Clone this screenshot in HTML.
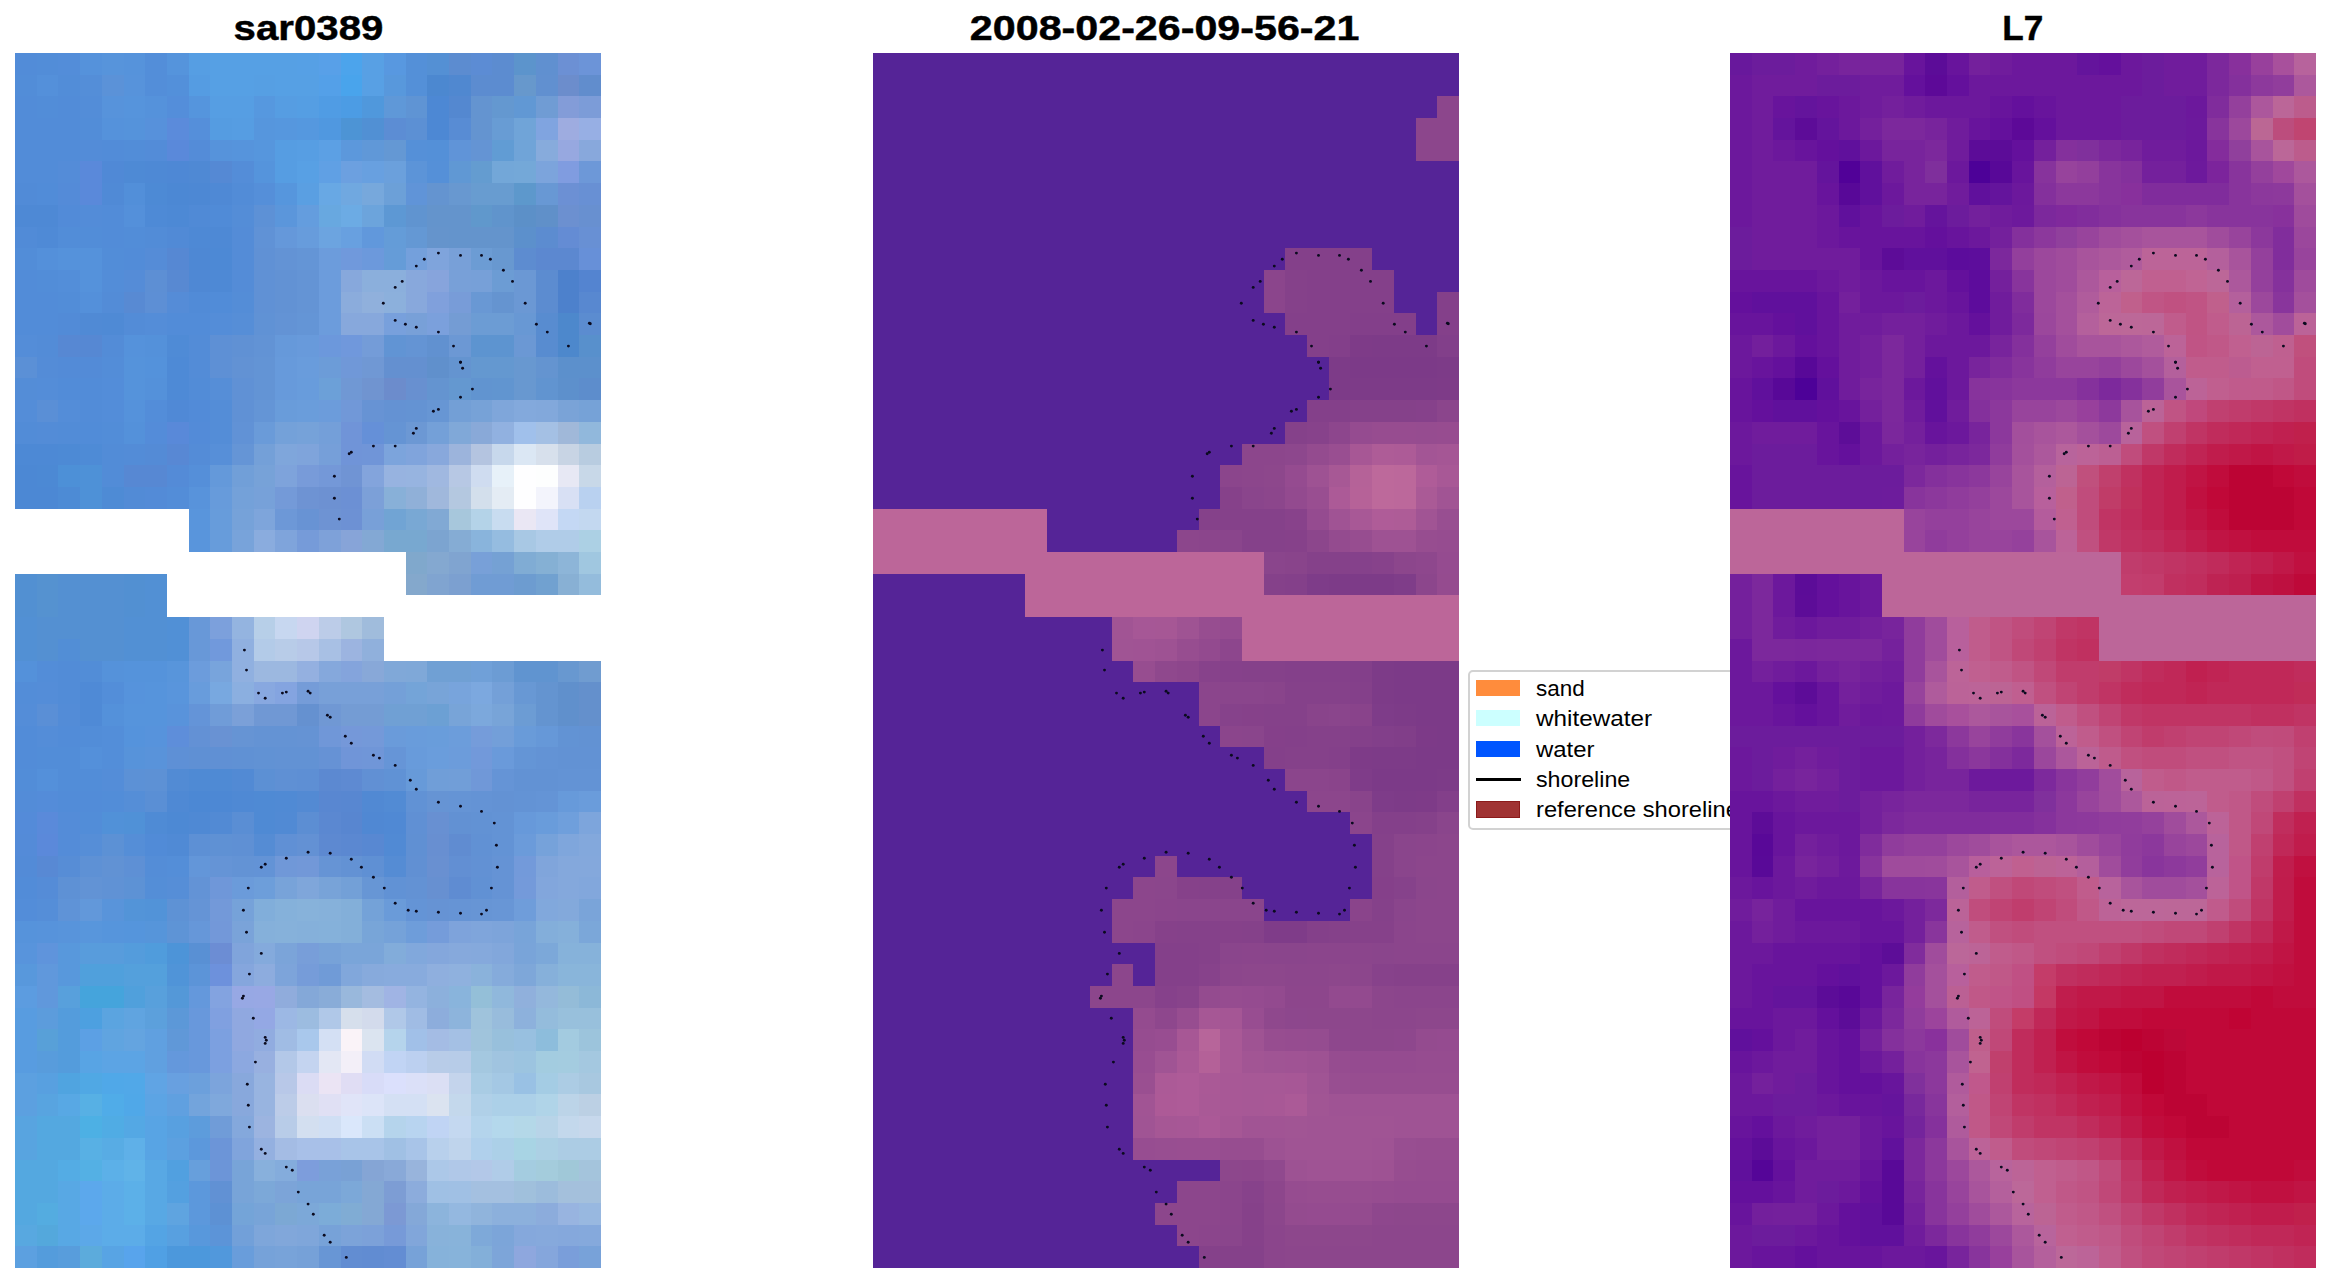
<!DOCTYPE html>
<html><head><meta charset="utf-8"><title>figure</title>
<style>
html,body{margin:0;padding:0;background:#fff}
body{width:2331px;height:1283px;position:relative;overflow:hidden;font-family:"Liberation Sans",sans-serif;color:#000}
.p{position:absolute;display:block}
.t{position:absolute;top:8.1px;width:800px;margin-left:-400px;text-align:center;font-weight:bold;font-size:35.7px;line-height:40px;white-space:nowrap}
.t span{display:inline-block;transform-origin:50% 50%;-webkit-text-stroke:0.45px #000}
.lg{position:absolute;left:1468px;top:670px;width:290px;height:156px;border:2px solid #d2d2d2;border-radius:5px;background:#fff;box-sizing:content-box}
.sw{position:absolute;left:1476px;width:44px;height:16px}
.lt{position:absolute;left:1536px;font-size:21.7px;line-height:30px;height:30px;white-space:nowrap}
.lt span{display:inline-block;transform-origin:0 50%}
</style></head><body>
<div class="lg"></div>
<div class="sw" style="top:680px;background:#ff8c3c"></div>
<div class="sw" style="top:710px;background:#ccffff"></div>
<div class="sw" style="top:741px;background:#0055ff"></div>
<div class="sw" style="top:778px;height:3px;background:#000;width:45px"></div>
<div class="sw" style="left:1476px;width:44px;top:800.8px;height:17.2px;background:#a03333;border:1.4px solid #8b1a1a;box-sizing:border-box"></div>
<div class="lt" style="top:674px"><span style="transform:scaleX(1.035)">sand</span></div>
<div class="lt" style="top:704px"><span style="transform:scaleX(1.119)">whitewater</span></div>
<div class="lt" style="top:735px"><span style="transform:scaleX(1.103)">water</span></div>
<div class="lt" style="top:765px"><span style="transform:scaleX(1.071)">shoreline</span></div>
<div class="lt" style="top:795px"><span style="transform:scaleX(1.093)">reference shoreline</span></div>
<div class="t" style="left:308.3px"><span style="transform:scaleX(1.126)">sar0389</span></div>
<div class="t" style="left:1164.5px"><span style="transform:scaleX(1.155)">2008-02-26-09-56-21</span></div>
<div class="t" style="left:2023.1px"><span style="transform:scaleX(0.984)">L7</span></div>
<svg class="p" style="left:15px;top:53px" width="586" height="1215" viewBox="0 0 586 1215" shape-rendering="crispEdges">
<path fill="#528cd8" d="M0 0h22v22h-22zM0 43h22v22h-22zM43 43h22v22h-22zM0 65h65v22h-65zM0 87h65v21h-65zM87 87h22v21h-22zM0 108h43v22h-43zM87 152h22v22h-22zM87 174h22v21h-22zM109 195h21v22h-21zM0 217h22v22h-22zM0 239h43v21h-43zM0 260h43v22h-43zM152 260h43v22h-43zM43 325h44v22h-44zM65 347h22v22h-22zM0 673h22v21h-22zM43 673h22v21h-22zM0 694h22v22h-22zM43 738h44v21h-44zM0 824h22v22h-22z"/>
<path fill="#528dd8" d="M22 0h21v22h-21zM0 22h22v21h-22zM43 22h22v21h-22zM22 43h21v22h-21zM65 65h22v22h-22zM109 87h21v21h-21zM43 174h44v21h-44zM109 174h21v21h-21zM0 195h22v22h-22zM87 195h22v22h-22zM22 217h21v22h-21zM43 239h22v21h-22zM87 369h22v22h-22zM65 673h22v21h-22zM22 694h43v22h-43zM0 716h22v22h-22zM43 716h44v22h-44zM87 738h22v21h-22zM65 759h22v22h-22z"/>
<path fill="#538dd9" d="M43 0h22v22h-22zM87 325h22v22h-22zM87 347h22v22h-22zM130 347h22v22h-22zM0 846h22v22h-22z"/>
<path fill="#5592db" d="M65 0h22v22h-22zM130 43h22v22h-22zM87 65h22v22h-22zM43 195h44v22h-44zM65 217h22v22h-22zM109 282h21v22h-21zM109 347h21v22h-21z"/>
<path fill="#5794db" d="M87 0h22v22h-22z"/>
<path fill="#5693db" d="M109 0h21v22h-21zM195 87h22v21h-22zM0 868h22v22h-22z"/>
<path fill="#538ed9" d="M130 0h22v22h-22zM130 22h22v21h-22zM43 217h22v22h-22zM87 629h22v22h-22zM87 673h22v21h-22zM87 694h22v22h-22z"/>
<path fill="#5594dc" d="M152 0h22v22h-22zM239 108h21v22h-21z"/>
<path fill="#569ee3" d="M174 0h21v22h-21zM195 43h44v22h-44z"/>
<path fill="#56a0e4" d="M195 0h87v22h-87zM195 22h44v21h-44zM260 22h44v21h-44z"/>
<path fill="#56a0e5" d="M282 0h22v22h-22z"/>
<path fill="#58a0e8" d="M304 0h22v22h-22z"/>
<path fill="#4ca4ec" d="M326 0h21v22h-21z"/>
<path fill="#58a0e4" d="M347 0h22v22h-22zM347 22h22v21h-22zM282 108h22v22h-22z"/>
<path fill="#5898e0" d="M369 0h22v22h-22z"/>
<path fill="#5490d8" d="M391 0h21v22h-21zM391 22h21v21h-21zM412 87h22v21h-22z"/>
<path fill="#5490d4" d="M412 0h22v22h-22z"/>
<path fill="#5c8cd0" d="M434 0h22v22h-22zM477 0h22v22h-22zM456 22h43v21h-43zM521 174h22v21h-22zM521 217h22v22h-22zM521 239h22v21h-22z"/>
<path fill="#5c8cd4" d="M456 0h21v22h-21z"/>
<path fill="#5c94cc" d="M499 0h22v22h-22z"/>
<path fill="#6090d0" d="M521 0h22v22h-22z"/>
<path fill="#6c90d4" d="M543 0h21v22h-21zM543 130h21v22h-21zM326 434h21v22h-21z"/>
<path fill="#6c94d8" d="M564 0h22v22h-22z"/>
<path fill="#5490da" d="M22 22h21v21h-21zM109 152h21v22h-21zM22 195h21v22h-21zM65 239h22v21h-22zM65 694h22v22h-22zM22 716h21v22h-21z"/>
<path fill="#548ed8" d="M65 22h22v21h-22zM152 803h22v21h-22z"/>
<path fill="#5b92d8" d="M87 22h22v21h-22z"/>
<path fill="#5793db" d="M109 22h21v21h-21zM87 43h22v22h-22zM22 868h21v22h-21z"/>
<path fill="#5390da" d="M152 22h22v21h-22z"/>
<path fill="#559ce2" d="M174 22h21v21h-21z"/>
<path fill="#569fe3" d="M239 22h21v21h-21z"/>
<path fill="#54a0e8" d="M304 22h22v21h-22z"/>
<path fill="#49a4ec" d="M326 22h21v21h-21z"/>
<path fill="#5898dc" d="M369 22h22v21h-22zM43 890h22v21h-22zM0 911h22v22h-22zM43 911h22v22h-22zM174 1172h21v21h-21z"/>
<path fill="#4c88d0" d="M412 22h22v21h-22z"/>
<path fill="#5088d0" d="M434 22h22v21h-22z"/>
<path fill="#6798cc" d="M499 22h22v21h-22z"/>
<path fill="#6190d0" d="M521 22h22v21h-22z"/>
<path fill="#6c8dcc" d="M543 22h21v21h-21z"/>
<path fill="#618dcd" d="M564 22h22v21h-22z"/>
<path fill="#538dd8" d="M65 43h22v22h-22zM87 217h22v22h-22zM87 304h22v21h-22zM152 434h22v22h-22zM22 608h21v21h-21zM0 629h22v22h-22z"/>
<path fill="#5694dc" d="M109 43h21v22h-21zM217 87h22v21h-22zM130 629h22v22h-22zM109 651h43v22h-43z"/>
<path fill="#548eda" d="M152 43h22v22h-22z"/>
<path fill="#5595dd" d="M174 43h21v22h-21z"/>
<path fill="#5698df" d="M239 43h21v22h-21z"/>
<path fill="#569de2" d="M260 43h22v22h-22zM217 65h22v22h-22zM260 87h22v21h-22zM260 108h22v22h-22z"/>
<path fill="#559ee3" d="M282 43h22v22h-22z"/>
<path fill="#509ce4" d="M304 43h22v22h-22z"/>
<path fill="#4c9ce4" d="M326 43h21v22h-21z"/>
<path fill="#5098dc" d="M347 43h22v22h-22z"/>
<path fill="#5f98d8" d="M369 43h22v22h-22z"/>
<path fill="#5f94d4" d="M391 43h21v22h-21z"/>
<path fill="#4d88d4" d="M412 43h22v22h-22zM412 65h22v22h-22zM174 130h21v22h-21zM195 738h22v21h-22z"/>
<path fill="#5488d0" d="M434 43h22v22h-22z"/>
<path fill="#6494d0" d="M456 43h21v22h-21zM456 65h21v22h-21zM412 130h22v22h-22zM434 304h22v21h-22zM521 304h22v21h-22zM412 325h22v22h-22zM521 629h22v22h-22zM521 651h22v22h-22z"/>
<path fill="#6498d0" d="M477 43h22v22h-22zM456 304h43v21h-43zM434 325h22v22h-22z"/>
<path fill="#6198d4" d="M499 43h22v22h-22z"/>
<path fill="#709cd4" d="M521 43h22v22h-22zM456 521h43v21h-43z"/>
<path fill="#839cd8" d="M543 43h21v22h-21z"/>
<path fill="#7c9cd8" d="M564 43h22v22h-22z"/>
<path fill="#5593db" d="M109 65h21v22h-21zM109 304h21v21h-21zM109 325h21v22h-21zM109 608h43v21h-43z"/>
<path fill="#5791db" d="M130 65h22v22h-22z"/>
<path fill="#5b8bdb" d="M152 65h22v22h-22z"/>
<path fill="#558fda" d="M174 65h21v22h-21z"/>
<path fill="#559ce1" d="M195 65h22v22h-22z"/>
<path fill="#5696dd" d="M239 65h21v22h-21zM239 87h21v21h-21zM260 130h22v22h-22z"/>
<path fill="#5697de" d="M260 65h22v22h-22z"/>
<path fill="#5598df" d="M282 65h22v22h-22z"/>
<path fill="#5098e0" d="M304 65h22v22h-22z"/>
<path fill="#4d94d5" d="M326 65h21v22h-21z"/>
<path fill="#5190d4" d="M347 65h22v22h-22z"/>
<path fill="#5c8dd4" d="M369 65h22v22h-22z"/>
<path fill="#5c90d4" d="M391 65h21v22h-21zM239 716h21v22h-21z"/>
<path fill="#588cd4" d="M434 65h22v22h-22z"/>
<path fill="#689cd4" d="M477 65h22v22h-22z"/>
<path fill="#70a4d8" d="M499 65h22v22h-22zM499 87h22v21h-22z"/>
<path fill="#80a4e0" d="M521 65h22v22h-22z"/>
<path fill="#9eace0" d="M543 65h21v22h-21z"/>
<path fill="#97afe4" d="M564 65h22v22h-22z"/>
<path fill="#538cd8" d="M65 87h22v21h-22zM130 87h22v21h-22zM65 152h22v22h-22zM0 738h22v21h-22z"/>
<path fill="#5a89da" d="M152 87h22v21h-22zM65 108h22v22h-22zM65 130h22v22h-22z"/>
<path fill="#548cd8" d="M174 87h21v21h-21zM43 108h22v22h-22zM43 759h22v22h-22zM43 781h22v22h-22z"/>
<path fill="#579ee3" d="M282 87h22v21h-22z"/>
<path fill="#5ca0e4" d="M304 87h22v21h-22zM65 976h22v22h-22z"/>
<path fill="#5c98dc" d="M326 87h21v21h-21zM174 1085h21v22h-21zM174 1128h21v22h-21zM174 1150h21v22h-21z"/>
<path fill="#6098d8" d="M347 87h22v21h-22zM152 976h22v22h-22z"/>
<path fill="#6498d4" d="M369 87h22v21h-22zM391 174h21v21h-21z"/>
<path fill="#5590d8" d="M391 87h21v21h-21zM412 108h22v22h-22z"/>
<path fill="#6094d8" d="M434 87h22v21h-22zM391 130h21v22h-21z"/>
<path fill="#6494d4" d="M456 87h21v21h-21zM391 282h21v22h-21z"/>
<path fill="#619cd4" d="M477 87h22v21h-22z"/>
<path fill="#87abdc" d="M521 87h22v21h-22z"/>
<path fill="#97a8e0" d="M543 87h21v21h-21z"/>
<path fill="#88a8dc" d="M564 87h22v21h-22zM391 217h21v22h-21zM391 239h21v21h-21zM412 391h22v21h-22zM217 1020h22v21h-22zM217 1041h22v22h-22z"/>
<path fill="#5089d6" d="M87 108h22v22h-22zM152 347h22v22h-22z"/>
<path fill="#4e8ad5" d="M109 108h21v22h-21z"/>
<path fill="#4e89d5" d="M130 108h22v22h-22zM0 152h43v22h-43zM174 174h43v21h-43zM195 217h22v22h-22z"/>
<path fill="#4e88d5" d="M152 108h22v22h-22z"/>
<path fill="#4f89d4" d="M174 108h21v22h-21zM152 738h22v21h-22zM217 738h22v21h-22zM174 759h21v22h-21z"/>
<path fill="#5589d4" d="M195 108h22v22h-22z"/>
<path fill="#548dd8" d="M217 108h22v22h-22zM130 260h22v22h-22zM195 260h22v22h-22zM0 282h22v22h-22zM22 325h21v22h-21zM0 347h22v22h-22zM43 347h22v22h-22zM22 629h21v22h-21zM0 651h22v22h-22zM22 673h21v21h-21zM87 716h22v22h-22z"/>
<path fill="#60a0e4" d="M304 108h22v22h-22z"/>
<path fill="#6ca0e0" d="M326 108h21v22h-21z"/>
<path fill="#68a0e0" d="M347 108h22v22h-22zM326 174h21v21h-21zM152 1020h22v21h-22z"/>
<path fill="#6ba0dc" d="M369 108h22v22h-22z"/>
<path fill="#5c94d8" d="M391 108h21v22h-21zM174 911h21v22h-21zM195 1172h22v21h-22z"/>
<path fill="#6098d4" d="M434 108h22v22h-22z"/>
<path fill="#649cd0" d="M456 108h21v22h-21z"/>
<path fill="#73a7d8" d="M477 108h22v22h-22z"/>
<path fill="#74a8d8" d="M499 108h22v22h-22z"/>
<path fill="#7ca4dc" d="M521 108h22v22h-22zM369 391h22v21h-22zM195 1020h22v21h-22z"/>
<path fill="#809ce0" d="M543 108h21v22h-21z"/>
<path fill="#6d98d8" d="M564 108h22v22h-22z"/>
<path fill="#518bd7" d="M0 130h22v22h-22zM0 174h22v21h-22zM174 239h21v21h-21zM130 781h22v22h-22z"/>
<path fill="#518cd8" d="M22 130h21v22h-21zM195 239h22v21h-22zM65 369h22v22h-22z"/>
<path fill="#548bd8" d="M43 130h22v22h-22zM0 781h22v22h-22z"/>
<path fill="#508ad6" d="M87 130h22v22h-22zM174 152h21v22h-21z"/>
<path fill="#528fd9" d="M109 130h21v22h-21z"/>
<path fill="#4d8ad5" d="M130 130h22v22h-22zM43 391h22v21h-22z"/>
<path fill="#4c88d4" d="M152 130h22v22h-22zM0 412h22v22h-22zM0 434h43v22h-43zM174 738h21v21h-21z"/>
<path fill="#4f89d5" d="M195 130h22v22h-22z"/>
<path fill="#528cd7" d="M217 130h22v22h-22zM130 174h22v21h-22zM174 325h21v22h-21zM0 369h22v22h-22zM43 369h22v22h-22zM87 391h22v21h-22zM87 412h22v22h-22zM43 608h22v21h-22zM43 629h22v22h-22z"/>
<path fill="#558fd9" d="M239 130h21v22h-21zM174 412h21v22h-21z"/>
<path fill="#5a9fe2" d="M282 130h22v22h-22z"/>
<path fill="#68a8e4" d="M304 130h22v22h-22z"/>
<path fill="#70a8e0" d="M326 130h21v22h-21z"/>
<path fill="#77a8dc" d="M347 130h22v22h-22z"/>
<path fill="#6ca0d8" d="M369 130h22v22h-22zM304 325h22v22h-22z"/>
<path fill="#6898d0" d="M434 130h22v22h-22zM477 195h22v22h-22zM499 304h22v21h-22zM499 325h22v22h-22zM543 608h21v21h-21z"/>
<path fill="#689cd0" d="M456 130h43v22h-43z"/>
<path fill="#5d98cc" d="M499 130h22v22h-22z"/>
<path fill="#6898d4" d="M521 130h22v22h-22zM499 260h22v22h-22zM499 629h22v22h-22z"/>
<path fill="#6890d4" d="M564 130h22v22h-22zM564 174h22v21h-22z"/>
<path fill="#528bd8" d="M43 152h22v22h-22zM174 347h21v22h-21z"/>
<path fill="#4e8ad6" d="M130 152h22v22h-22zM152 304h22v21h-22zM152 325h22v22h-22z"/>
<path fill="#4d89d5" d="M152 152h22v22h-22zM195 195h22v22h-22zM0 391h43v21h-43z"/>
<path fill="#508bd7" d="M195 152h22v22h-22z"/>
<path fill="#548dd7" d="M217 152h22v22h-22zM217 239h22v21h-22zM0 325h22v22h-22zM195 347h22v22h-22zM195 369h22v22h-22zM130 803h22v21h-22z"/>
<path fill="#5d91d6" d="M239 152h21v22h-21z"/>
<path fill="#5b96db" d="M260 152h22v22h-22z"/>
<path fill="#649dde" d="M282 152h22v22h-22z"/>
<path fill="#68a8e0" d="M304 152h22v22h-22z"/>
<path fill="#6cabe4" d="M326 152h21v22h-21z"/>
<path fill="#6ca4dc" d="M347 152h22v22h-22z"/>
<path fill="#5d98d4" d="M369 152h22v22h-22z"/>
<path fill="#6094d0" d="M391 152h21v22h-21zM499 608h44v21h-44z"/>
<path fill="#6494cc" d="M412 152h44v22h-44zM434 174h65v21h-65z"/>
<path fill="#6098cc" d="M456 152h21v22h-21z"/>
<path fill="#6094cc" d="M477 152h22v22h-22z"/>
<path fill="#5c90c8" d="M499 152h22v22h-22z"/>
<path fill="#6090c9" d="M521 152h22v22h-22z"/>
<path fill="#6c90d0" d="M543 152h21v22h-21z"/>
<path fill="#6890d0" d="M564 152h22v22h-22zM391 325h21v22h-21z"/>
<path fill="#4f8ad6" d="M22 174h21v21h-21zM65 629h22v22h-22zM65 651h22v22h-22z"/>
<path fill="#518ad6" d="M152 174h22v21h-22z"/>
<path fill="#548cd7" d="M217 174h22v21h-22zM217 195h22v22h-22zM217 217h22v22h-22zM22 304h21v21h-21zM174 391h21v21h-21z"/>
<path fill="#6092d6" d="M239 174h21v21h-21z"/>
<path fill="#6598da" d="M260 174h22v21h-22z"/>
<path fill="#679cdc" d="M282 174h22v21h-22z"/>
<path fill="#6ca4e0" d="M304 174h22v21h-22z"/>
<path fill="#6198dc" d="M347 174h22v21h-22z"/>
<path fill="#649cd8" d="M369 174h22v21h-22z"/>
<path fill="#6594cc" d="M412 174h22v21h-22z"/>
<path fill="#5c90cc" d="M499 174h22v21h-22zM543 304h43v21h-43z"/>
<path fill="#648cd4" d="M543 174h21v21h-21z"/>
<path fill="#558cd7" d="M130 195h22v22h-22zM109 217h21v22h-21zM152 239h22v21h-22zM22 824h21v22h-21z"/>
<path fill="#5688d3" d="M152 195h22v22h-22zM65 282h22v22h-22z"/>
<path fill="#4e88d4" d="M174 195h21v22h-21z"/>
<path fill="#6091d5" d="M239 195h21v22h-21zM239 217h21v22h-21zM239 239h21v21h-21zM217 325h22v22h-22zM217 347h22v22h-22z"/>
<path fill="#6393d5" d="M260 195h22v22h-22zM260 260h22v22h-22zM521 694h22v22h-22zM543 716h43v22h-43zM499 738h22v21h-22zM477 759h22v22h-22zM477 781h22v22h-22zM217 803h22v21h-22z"/>
<path fill="#6495d6" d="M282 195h22v22h-22zM282 260h22v22h-22zM239 347h21v22h-21zM499 694h22v22h-22z"/>
<path fill="#6c9cdc" d="M304 195h22v22h-22zM304 217h22v22h-22zM304 239h22v21h-22zM304 260h22v22h-22zM174 608h21v21h-21z"/>
<path fill="#7099dc" d="M326 195h21v22h-21z"/>
<path fill="#6c99dc" d="M347 195h22v22h-22z"/>
<path fill="#659cd8" d="M369 195h22v22h-22z"/>
<path fill="#74a0dc" d="M391 195h21v22h-21z"/>
<path fill="#7fa4dc" d="M412 195h22v22h-22z"/>
<path fill="#78a0d8" d="M434 195h22v22h-22zM434 217h22v22h-22zM391 260h21v22h-21zM347 456h22v21h-22zM456 499h21v22h-21zM304 629h65v22h-65z"/>
<path fill="#6c9cd4" d="M456 195h21v22h-21zM477 217h22v22h-22zM456 260h43v22h-43zM477 608h22v21h-22zM499 651h22v22h-22z"/>
<path fill="#5d8cd0" d="M499 195h22v22h-22z"/>
<path fill="#5c88d0" d="M521 195h43v22h-43z"/>
<path fill="#6790d8" d="M564 195h22v22h-22z"/>
<path fill="#5d8fd4" d="M130 217h22v22h-22z"/>
<path fill="#5889d2" d="M152 217h22v22h-22z"/>
<path fill="#4f88d4" d="M174 217h21v22h-21z"/>
<path fill="#6292d4" d="M260 217h22v22h-22zM260 239h22v21h-22zM217 304h22v21h-22zM260 694h44v22h-44zM543 694h43v22h-43zM499 716h44v22h-44zM456 759h21v22h-21z"/>
<path fill="#6494d5" d="M282 217h22v22h-22zM282 239h22v21h-22z"/>
<path fill="#87a8dc" d="M326 217h21v22h-21zM326 260h43v22h-43z"/>
<path fill="#8bafdc" d="M347 217h44v22h-44z"/>
<path fill="#87a4dc" d="M412 217h22v22h-22z"/>
<path fill="#77a0d8" d="M456 217h21v22h-21z"/>
<path fill="#6b98d4" d="M499 217h22v22h-22zM499 239h22v21h-22zM499 282h22v22h-22z"/>
<path fill="#4d81cc" d="M543 217h21v22h-21zM543 239h21v21h-21z"/>
<path fill="#5484d0" d="M564 217h22v22h-22z"/>
<path fill="#538cd7" d="M87 239h22v21h-22zM109 260h21v22h-21zM22 282h21v22h-21zM87 282h22v22h-22zM174 282h21v22h-21zM174 304h21v21h-21zM22 369h21v22h-21zM109 391h21v21h-21zM43 651h22v22h-22z"/>
<path fill="#588ad3" d="M109 239h21v21h-21z"/>
<path fill="#5d8fd5" d="M130 239h22v21h-22z"/>
<path fill="#8bacdc" d="M326 239h21v21h-21z"/>
<path fill="#90b0dc" d="M347 239h22v21h-22zM347 586h22v22h-22zM499 933h22v22h-22z"/>
<path fill="#8cb0dc" d="M369 239h22v21h-22zM412 933h22v22h-22zM477 1150h44v22h-44z"/>
<path fill="#80a0dc" d="M412 239h22v21h-22z"/>
<path fill="#789cd8" d="M434 239h22v21h-22z"/>
<path fill="#6998d4" d="M456 239h21v21h-21z"/>
<path fill="#6594d0" d="M477 239h22v21h-22z"/>
<path fill="#5888d0" d="M564 239h22v21h-22z"/>
<path fill="#528bd7" d="M43 260h22v22h-22z"/>
<path fill="#508ad5" d="M65 260h22v22h-22zM152 781h22v22h-22z"/>
<path fill="#4f8ad5" d="M87 260h22v22h-22z"/>
<path fill="#568ed7" d="M217 260h22v22h-22zM195 325h22v22h-22zM65 781h22v22h-22zM152 824h22v22h-22z"/>
<path fill="#6092d5" d="M239 260h21v22h-21zM369 716h22v22h-22zM87 824h22v22h-22z"/>
<path fill="#78a0dc" d="M369 260h22v22h-22z"/>
<path fill="#7ba0dc" d="M412 260h22v22h-22z"/>
<path fill="#749cd4" d="M434 260h22v22h-22zM326 651h43v22h-43z"/>
<path fill="#588cd0" d="M521 260h22v22h-22zM521 282h22v22h-22z"/>
<path fill="#4d88cc" d="M543 260h21v22h-21zM543 282h21v22h-21z"/>
<path fill="#5b8cd0" d="M564 260h22v22h-22z"/>
<path fill="#5788d3" d="M43 282h22v22h-22zM109 412h43v22h-43z"/>
<path fill="#5491da" d="M130 282h22v22h-22zM130 325h22v22h-22zM109 369h21v22h-21zM0 608h22v21h-22zM87 651h22v22h-22z"/>
<path fill="#4f8bd6" d="M152 282h22v22h-22z"/>
<path fill="#5e90d5" d="M195 282h22v22h-22zM195 304h22v21h-22zM109 803h21v21h-21z"/>
<path fill="#6091d4" d="M217 282h22v22h-22zM217 694h22v22h-22z"/>
<path fill="#6293d5" d="M239 282h21v22h-21zM65 824h22v22h-22z"/>
<path fill="#6699da" d="M260 282h22v22h-22z"/>
<path fill="#689adb" d="M282 282h22v22h-22z"/>
<path fill="#6c98dc" d="M304 282h22v22h-22z"/>
<path fill="#7098dc" d="M326 282h21v22h-21z"/>
<path fill="#749cd8" d="M347 282h22v22h-22z"/>
<path fill="#6194d4" d="M369 282h22v22h-22z"/>
<path fill="#6191d0" d="M412 282h22v22h-22z"/>
<path fill="#6c98d4" d="M434 282h22v22h-22zM391 369h21v22h-21z"/>
<path fill="#5d94d0" d="M456 282h43v22h-43z"/>
<path fill="#5890cc" d="M564 282h22v22h-22z"/>
<path fill="#5b90d6" d="M0 304h22v21h-22z"/>
<path fill="#538bd7" d="M43 304h44v21h-44zM130 434h22v22h-22zM0 803h22v21h-22z"/>
<path fill="#5492db" d="M130 304h22v21h-22z"/>
<path fill="#6394d5" d="M239 304h21v21h-21zM239 325h21v22h-21z"/>
<path fill="#679adb" d="M260 304h22v21h-22zM260 325h22v22h-22z"/>
<path fill="#699cdc" d="M282 304h22v21h-22z"/>
<path fill="#6c9cd8" d="M304 304h22v21h-22z"/>
<path fill="#7098d8" d="M326 304h21v21h-21zM456 716h21v22h-21zM260 803h22v21h-22z"/>
<path fill="#7098d4" d="M347 304h22v21h-22zM326 325h21v22h-21zM239 651h43v22h-43zM304 651h22v22h-22z"/>
<path fill="#6490d0" d="M369 304h43v21h-43z"/>
<path fill="#6090cc" d="M412 304h22v21h-22zM543 629h21v22h-21zM543 651h21v22h-21z"/>
<path fill="#689cdc" d="M282 325h22v22h-22zM174 629h21v22h-21z"/>
<path fill="#7094d0" d="M347 325h22v22h-22z"/>
<path fill="#6c8ccc" d="M369 325h22v22h-22z"/>
<path fill="#6194d0" d="M456 325h21v22h-21zM521 325h22v22h-22z"/>
<path fill="#6195d0" d="M477 325h22v22h-22z"/>
<path fill="#5d90cc" d="M543 325h21v22h-21z"/>
<path fill="#5d8dcc" d="M564 325h22v22h-22z"/>
<path fill="#5a8fd6" d="M22 347h21v22h-21zM22 651h21v22h-21z"/>
<path fill="#699cda" d="M260 347h22v22h-22z"/>
<path fill="#6a9ddb" d="M282 347h22v22h-22z"/>
<path fill="#6c9cdb" d="M304 347h22v22h-22zM434 694h22v22h-22z"/>
<path fill="#7198d8" d="M326 347h21v22h-21z"/>
<path fill="#6793d4" d="M347 347h22v22h-22z"/>
<path fill="#6492d3" d="M369 347h22v22h-22z"/>
<path fill="#6493d3" d="M391 347h21v22h-21z"/>
<path fill="#6796d4" d="M412 347h22v22h-22z"/>
<path fill="#739fd6" d="M434 347h22v22h-22z"/>
<path fill="#77a2d7" d="M456 347h21v22h-21z"/>
<path fill="#7fa6da" d="M477 347h22v22h-22zM282 824h22v22h-22zM282 1172h22v21h-22z"/>
<path fill="#83a9dc" d="M499 347h22v22h-22z"/>
<path fill="#82a8db" d="M521 347h22v22h-22z"/>
<path fill="#7aa3d7" d="M543 347h21v22h-21z"/>
<path fill="#76a2d7" d="M564 347h22v22h-22z"/>
<path fill="#548cd9" d="M130 369h22v22h-22zM22 738h21v21h-21z"/>
<path fill="#5989d9" d="M152 369h22v22h-22z"/>
<path fill="#538bd8" d="M174 369h21v22h-21z"/>
<path fill="#6192d6" d="M217 369h22v22h-22z"/>
<path fill="#6a9bd9" d="M239 369h21v22h-21zM369 846h22v22h-22z"/>
<path fill="#74a1d9" d="M260 369h22v22h-22zM217 434h22v22h-22z"/>
<path fill="#76a2d9" d="M282 369h22v22h-22zM217 456h22v21h-22zM217 846h22v22h-22zM239 1193h21v22h-21z"/>
<path fill="#749fd9" d="M304 369h22v22h-22z"/>
<path fill="#7094d8" d="M326 369h21v22h-21zM326 391h21v21h-21z"/>
<path fill="#6590d8" d="M347 369h22v22h-22z"/>
<path fill="#6594d4" d="M369 369h22v22h-22z"/>
<path fill="#74a0d8" d="M412 369h22v22h-22zM239 391h21v21h-21zM369 629h22v22h-22zM477 629h22v22h-22z"/>
<path fill="#80a8d8" d="M434 369h22v22h-22zM369 608h22v21h-22z"/>
<path fill="#89a9d8" d="M456 369h21v22h-21zM369 1107h22v21h-22z"/>
<path fill="#91b1e0" d="M477 369h22v22h-22z"/>
<path fill="#a0c0eb" d="M499 369h22v22h-22z"/>
<path fill="#a4c0e4" d="M521 369h22v22h-22zM434 976h22v22h-22z"/>
<path fill="#a0b8d9" d="M543 369h21v22h-21z"/>
<path fill="#91b8dc" d="M564 369h22v22h-22z"/>
<path fill="#4e8bd6" d="M65 391h22v21h-22z"/>
<path fill="#548bd6" d="M130 391h22v21h-22z"/>
<path fill="#5888d4" d="M152 391h22v21h-22z"/>
<path fill="#578fd8" d="M195 391h22v21h-22z"/>
<path fill="#6595d6" d="M217 391h22v21h-22z"/>
<path fill="#7fa6db" d="M260 391h22v21h-22z"/>
<path fill="#7fa4db" d="M282 391h22v21h-22zM260 477h22v22h-22z"/>
<path fill="#769fd9" d="M304 391h22v21h-22z"/>
<path fill="#7095d8" d="M347 391h22v21h-22zM326 694h21v22h-21z"/>
<path fill="#80a4dc" d="M391 391h21v21h-21zM217 1085h22v22h-22z"/>
<path fill="#9cb4dc" d="M434 391h22v21h-22z"/>
<path fill="#b4c4e0" d="M456 391h21v21h-21z"/>
<path fill="#c7d8ec" d="M477 391h22v21h-22zM564 1063h22v22h-22z"/>
<path fill="#dbe7f4" d="M499 391h22v21h-22z"/>
<path fill="#d7e0ec" d="M521 391h22v21h-22z"/>
<path fill="#c8d4e4" d="M543 391h21v21h-21z"/>
<path fill="#b8cce0" d="M564 391h22v21h-22z"/>
<path fill="#4c89d4" d="M22 412h21v22h-21z"/>
<path fill="#4d90d7" d="M43 412h22v22h-22z"/>
<path fill="#4e91d7" d="M65 412h22v22h-22zM65 434h22v22h-22z"/>
<path fill="#548bd7" d="M152 412h22v22h-22z"/>
<path fill="#6499da" d="M195 412h22v22h-22z"/>
<path fill="#719fd8" d="M217 412h22v22h-22z"/>
<path fill="#77a2d8" d="M239 412h21v22h-21zM304 890h22v21h-22zM304 1172h22v21h-22zM391 1193h21v22h-21z"/>
<path fill="#7ea3db" d="M260 412h22v22h-22zM434 868h22v22h-22z"/>
<path fill="#789bd9" d="M282 412h22v22h-22z"/>
<path fill="#7498d8" d="M304 412h22v22h-22z"/>
<path fill="#7094d4" d="M326 412h21v22h-21z"/>
<path fill="#83a4dc" d="M347 412h22v22h-22z"/>
<path fill="#97b3e0" d="M369 412h22v22h-22z"/>
<path fill="#97b4e0" d="M391 412h21v22h-21z"/>
<path fill="#a0b8e0" d="M412 412h22v22h-22z"/>
<path fill="#b7c8e4" d="M434 412h22v22h-22z"/>
<path fill="#cfdcf0" d="M456 412h21v22h-21z"/>
<path fill="#e7f1f9" d="M477 412h22v22h-22z"/>
<path fill="#fefeff" d="M499 412h22v22h-22zM499 434h22v22h-22z"/>
<path fill="#fdfefe" d="M521 412h22v22h-22z"/>
<path fill="#e7e8f4" d="M543 412h21v22h-21z"/>
<path fill="#c8d8e8" d="M564 412h22v22h-22z"/>
<path fill="#4d8bd5" d="M43 434h22v22h-22z"/>
<path fill="#4e8bd5" d="M87 434h22v22h-22z"/>
<path fill="#528bd6" d="M109 434h21v22h-21z"/>
<path fill="#5893db" d="M174 434h21v22h-21z"/>
<path fill="#679bdb" d="M195 434h22v22h-22z"/>
<path fill="#77a1d9" d="M239 434h21v22h-21z"/>
<path fill="#749ad8" d="M260 434h22v22h-22z"/>
<path fill="#6e93d3" d="M282 434h22v22h-22zM304 456h22v21h-22z"/>
<path fill="#6d91d2" d="M304 434h22v22h-22z"/>
<path fill="#7ca0d8" d="M347 434h22v22h-22z"/>
<path fill="#88b0d8" d="M369 434h22v22h-22z"/>
<path fill="#90b0d8" d="M391 434h21v22h-21z"/>
<path fill="#a0b8dc" d="M412 434h22v22h-22z"/>
<path fill="#b4c8e0" d="M434 434h22v22h-22z"/>
<path fill="#d3dfec" d="M456 434h21v22h-21z"/>
<path fill="#e4ecf4" d="M477 434h22v22h-22z"/>
<path fill="#f3f4fc" d="M521 434h22v22h-22z"/>
<path fill="#d8e0f4" d="M543 434h21v22h-21z"/>
<path fill="#b9d1f0" d="M564 434h22v22h-22z"/>
<path fill="#ffffff" d="M0 456h174v21h-174zM0 477h174v22h-174zM0 499h391v22h-391zM152 521h239v21h-239zM152 542h434v22h-434zM369 564h217v22h-217zM369 586h217v22h-217z"/>
<path fill="#5995dc" d="M174 456h21v21h-21zM174 477h21v22h-21zM152 629h22v22h-22z"/>
<path fill="#679cdb" d="M195 456h22v21h-22zM195 477h22v22h-22z"/>
<path fill="#7ea5db" d="M239 456h21v21h-21z"/>
<path fill="#6d98d7" d="M260 456h22v21h-22z"/>
<path fill="#6893d4" d="M282 456h22v21h-22z"/>
<path fill="#6d91d4" d="M326 456h21v21h-21z"/>
<path fill="#71a4d4" d="M369 456h22v21h-22z"/>
<path fill="#79a8d4" d="M391 456h21v21h-21z"/>
<path fill="#81a9d4" d="M412 456h22v21h-22z"/>
<path fill="#a7c7dc" d="M434 456h22v21h-22z"/>
<path fill="#b4d3e8" d="M456 456h21v21h-21z"/>
<path fill="#c8dcf0" d="M477 456h22v21h-22z"/>
<path fill="#eae7f4" d="M499 456h22v21h-22z"/>
<path fill="#dfe4f8" d="M521 456h22v21h-22z"/>
<path fill="#c4d8f4" d="M543 456h21v21h-21z"/>
<path fill="#c3d8f0" d="M564 456h22v21h-22z"/>
<path fill="#78a3da" d="M217 477h22v22h-22z"/>
<path fill="#8aacde" d="M239 477h21v22h-21z"/>
<path fill="#769bd9" d="M282 477h22v22h-22z"/>
<path fill="#7ea1d9" d="M304 477h22v22h-22z"/>
<path fill="#87a4d8" d="M326 477h21v22h-21z"/>
<path fill="#83a8d4" d="M347 477h22v22h-22z"/>
<path fill="#78a8d0" d="M369 477h43v22h-43z"/>
<path fill="#7ca4d0" d="M412 477h22v22h-22z"/>
<path fill="#85acd4" d="M434 477h22v22h-22z"/>
<path fill="#89b4dc" d="M456 477h21v22h-21zM434 933h22v22h-22z"/>
<path fill="#95bce0" d="M477 477h22v22h-22z"/>
<path fill="#a8c8e4" d="M499 477h22v22h-22z"/>
<path fill="#b0cce8" d="M521 477h43v22h-43zM477 1107h22v21h-22z"/>
<path fill="#acd0e4" d="M564 477h22v22h-22zM521 1085h22v22h-22z"/>
<path fill="#80a8cc" d="M391 499h21v22h-21z"/>
<path fill="#84a8d0" d="M412 499h22v22h-22z"/>
<path fill="#80a4d0" d="M434 499h22v22h-22zM412 521h22v21h-22z"/>
<path fill="#75a1d4" d="M477 499h22v22h-22z"/>
<path fill="#80acd4" d="M499 499h22v22h-22zM326 1150h21v22h-21z"/>
<path fill="#85b0d4" d="M521 499h22v22h-22z"/>
<path fill="#8db5d8" d="M543 499h21v22h-21z"/>
<path fill="#a0c7e0" d="M564 499h22v22h-22z"/>
<path fill="#5290d2" d="M0 521h22v21h-22zM109 521h21v21h-21zM0 542h22v22h-22zM109 542h21v22h-21z"/>
<path fill="#5592d0" d="M22 521h21v21h-21zM22 542h21v22h-21z"/>
<path fill="#5490d2" d="M43 521h66v21h-66zM43 542h66v22h-66zM22 564h87v22h-87zM22 586h21v22h-21zM65 586h44v22h-44z"/>
<path fill="#5290d4" d="M130 521h22v21h-22zM130 542h22v22h-22zM0 564h22v22h-22zM109 564h43v22h-43zM0 586h22v22h-22zM109 586h43v22h-43z"/>
<path fill="#84a8cc" d="M391 521h21v21h-21z"/>
<path fill="#7ca0d0" d="M434 521h22v21h-22z"/>
<path fill="#6d9cd0" d="M499 521h22v21h-22z"/>
<path fill="#71a1d0" d="M521 521h22v21h-22z"/>
<path fill="#88b0d4" d="M543 521h21v21h-21z"/>
<path fill="#94bcdc" d="M564 521h22v21h-22zM521 955h22v21h-22z"/>
<path fill="#5190d6" d="M152 564h22v22h-22zM152 586h22v22h-22z"/>
<path fill="#6898d8" d="M174 564h21v22h-21zM174 586h21v22h-21z"/>
<path fill="#7ca0dc" d="M195 564h22v22h-22z"/>
<path fill="#94b4e0" d="M217 564h22v22h-22zM391 933h21v22h-21z"/>
<path fill="#b7cfe8" d="M239 564h21v22h-21z"/>
<path fill="#c7d7f0" d="M260 564h22v22h-22z"/>
<path fill="#cfd4f0" d="M282 564h22v22h-22z"/>
<path fill="#bccce8" d="M304 564h22v22h-22zM260 1041h22v22h-22z"/>
<path fill="#afc7e0" d="M326 564h21v22h-21z"/>
<path fill="#a0bcdc" d="M347 564h22v22h-22z"/>
<path fill="#528ed6" d="M43 586h22v22h-22z"/>
<path fill="#7199dc" d="M195 586h22v22h-22z"/>
<path fill="#90b0e0" d="M217 586h22v22h-22zM217 608h22v21h-22z"/>
<path fill="#b3cbe8" d="M239 586h21v22h-21z"/>
<path fill="#b8cce8" d="M260 586h22v22h-22zM412 998h22v22h-22zM260 1063h22v22h-22z"/>
<path fill="#b7c8e8" d="M282 586h22v22h-22z"/>
<path fill="#a8c0e4" d="M304 586h22v22h-22z"/>
<path fill="#9cb4e0" d="M326 586h21v22h-21zM239 1063h21v22h-21z"/>
<path fill="#528dd7" d="M65 608h22v21h-22z"/>
<path fill="#5592da" d="M87 608h22v21h-22z"/>
<path fill="#5895db" d="M152 608h22v21h-22z"/>
<path fill="#78a4dc" d="M195 608h22v21h-22zM434 629h22v22h-22z"/>
<path fill="#9cb8e0" d="M239 608h43v21h-43z"/>
<path fill="#94b0e0" d="M282 608h22v21h-22zM239 1085h21v22h-21z"/>
<path fill="#85a8dc" d="M304 608h22v21h-22zM499 1172h22v21h-22zM543 1172h21v21h-21z"/>
<path fill="#84a4dc" d="M326 608h21v21h-21z"/>
<path fill="#88a8d8" d="M347 608h22v21h-22z"/>
<path fill="#7fa8d8" d="M391 608h21v21h-21z"/>
<path fill="#70a0d4" d="M412 608h44v21h-44zM369 651h43v22h-43z"/>
<path fill="#70a0d8" d="M456 608h21v21h-21z"/>
<path fill="#709cd0" d="M564 608h22v21h-22z"/>
<path fill="#5693dc" d="M109 629h21v22h-21z"/>
<path fill="#78a8e0" d="M195 629h22v22h-22z"/>
<path fill="#8bafe0" d="M217 629h22v22h-22z"/>
<path fill="#88a8e0" d="M239 629h21v22h-21z"/>
<path fill="#84a4e0" d="M260 629h22v22h-22z"/>
<path fill="#759cd8" d="M282 629h22v22h-22z"/>
<path fill="#74a4d8" d="M391 629h21v22h-21zM217 1150h22v22h-22z"/>
<path fill="#78a4d8" d="M412 629h22v22h-22zM434 651h22v22h-22zM477 651h22v22h-22zM217 1107h22v21h-22zM217 1128h22v22h-22zM282 1128h44v22h-44zM239 1150h21v22h-21z"/>
<path fill="#7ca8df" d="M456 629h21v22h-21z"/>
<path fill="#6490cc" d="M564 629h22v22h-22zM564 651h22v22h-22z"/>
<path fill="#5993db" d="M152 651h22v22h-22z"/>
<path fill="#6494d8" d="M174 651h21v22h-21z"/>
<path fill="#709cd8" d="M195 651h22v22h-22zM195 1063h22v22h-22z"/>
<path fill="#7ba0d8" d="M217 651h22v22h-22z"/>
<path fill="#6591d0" d="M282 651h22v22h-22z"/>
<path fill="#6ca0d4" d="M412 651h22v22h-22z"/>
<path fill="#7ca8dc" d="M456 651h21v22h-21z"/>
<path fill="#5593dc" d="M109 673h21v21h-21z"/>
<path fill="#5793dc" d="M130 673h22v21h-22z"/>
<path fill="#5e8eda" d="M152 673h22v21h-22z"/>
<path fill="#6391d5" d="M174 673h21v21h-21z"/>
<path fill="#6992d3" d="M195 673h22v21h-22z"/>
<path fill="#6694d4" d="M217 673h22v21h-22zM412 738h22v21h-22z"/>
<path fill="#6493d4" d="M239 673h43v21h-43z"/>
<path fill="#6593d4" d="M282 673h22v21h-22z"/>
<path fill="#7097d8" d="M304 673h22v21h-22z"/>
<path fill="#7598d9" d="M326 673h21v21h-21z"/>
<path fill="#7499d9" d="M347 673h22v21h-22z"/>
<path fill="#6a9bda" d="M369 673h22v21h-22z"/>
<path fill="#699cdb" d="M391 673h21v21h-21zM521 759h22v22h-22z"/>
<path fill="#699ddb" d="M412 673h22v21h-22zM217 1193h22v22h-22z"/>
<path fill="#6c9ddb" d="M434 673h22v21h-22z"/>
<path fill="#759cda" d="M456 673h21v21h-21zM412 868h22v22h-22z"/>
<path fill="#739fd9" d="M477 673h22v21h-22z"/>
<path fill="#699bd9" d="M499 673h22v21h-22z"/>
<path fill="#6698d8" d="M521 673h22v21h-22z"/>
<path fill="#6293d4" d="M543 673h21v21h-21z"/>
<path fill="#6292d3" d="M564 673h22v21h-22z"/>
<path fill="#5793da" d="M109 694h21v22h-21z"/>
<path fill="#5993da" d="M130 694h22v22h-22z"/>
<path fill="#5e90d6" d="M152 694h22v22h-22z"/>
<path fill="#5f90d4" d="M174 694h21v22h-21zM260 716h22v22h-22zM217 781h22v22h-22zM347 803h22v21h-22z"/>
<path fill="#6090d4" d="M195 694h22v22h-22zM391 759h21v22h-21z"/>
<path fill="#6192d4" d="M239 694h21v22h-21zM87 803h22v21h-22z"/>
<path fill="#6692d5" d="M304 694h22v22h-22z"/>
<path fill="#7096d8" d="M347 694h22v22h-22z"/>
<path fill="#6695d7" d="M369 694h22v22h-22z"/>
<path fill="#689bdb" d="M391 694h21v22h-21z"/>
<path fill="#6a9ddc" d="M412 694h22v22h-22z"/>
<path fill="#7299da" d="M456 694h21v22h-21z"/>
<path fill="#6a9ada" d="M477 694h22v22h-22z"/>
<path fill="#5c91d6" d="M109 716h21v22h-21z"/>
<path fill="#5d91d5" d="M130 716h22v22h-22z"/>
<path fill="#528bd4" d="M152 716h22v22h-22zM369 738h22v21h-22z"/>
<path fill="#4f8ad4" d="M174 716h43v22h-43zM239 738h21v21h-21zM239 759h21v22h-21z"/>
<path fill="#528ad4" d="M217 716h22v22h-22zM195 759h22v22h-22z"/>
<path fill="#5e8fd4" d="M282 716h22v22h-22z"/>
<path fill="#5c89d1" d="M304 716h22v22h-22z"/>
<path fill="#5e8ad2" d="M326 716h21v22h-21z"/>
<path fill="#6190d4" d="M347 716h22v22h-22z"/>
<path fill="#679ad9" d="M391 716h21v22h-21z"/>
<path fill="#709ed8" d="M412 716h22v22h-22z"/>
<path fill="#719ed8" d="M434 716h22v22h-22z"/>
<path fill="#6594d6" d="M477 716h22v22h-22zM195 803h22v21h-22zM174 846h21v22h-21z"/>
<path fill="#558ed7" d="M109 738h21v21h-21zM109 781h21v22h-21z"/>
<path fill="#5a8fd5" d="M130 738h22v21h-22z"/>
<path fill="#508ad4" d="M260 738h22v21h-22z"/>
<path fill="#538ad3" d="M282 738h22v21h-22z"/>
<path fill="#5987d1" d="M304 738h22v21h-22z"/>
<path fill="#5887d1" d="M326 738h21v21h-21z"/>
<path fill="#5189d3" d="M347 738h22v21h-22z"/>
<path fill="#6192d5" d="M391 738h21v21h-21zM369 824h22v22h-22z"/>
<path fill="#6594d5" d="M434 738h22v21h-22z"/>
<path fill="#6493d5" d="M456 738h21v21h-21z"/>
<path fill="#6392d4" d="M477 738h22v21h-22zM326 803h21v21h-21zM391 824h21v22h-21z"/>
<path fill="#6494d6" d="M521 738h22v21h-22zM391 846h21v22h-21z"/>
<path fill="#679ada" d="M543 738h21v21h-21z"/>
<path fill="#6a9cdb" d="M564 738h22v21h-22z"/>
<path fill="#548bd9" d="M0 759h22v22h-22z"/>
<path fill="#5a8ada" d="M22 759h21v22h-21z"/>
<path fill="#5191d8" d="M87 759h22v22h-22z"/>
<path fill="#5091d7" d="M109 759h21v22h-21z"/>
<path fill="#4f8bd5" d="M130 759h22v22h-22z"/>
<path fill="#4d89d4" d="M152 759h22v22h-22z"/>
<path fill="#5a8ed4" d="M217 759h22v22h-22z"/>
<path fill="#518ad4" d="M260 759h22v22h-22zM369 781h22v22h-22z"/>
<path fill="#5c8ed3" d="M282 759h22v22h-22z"/>
<path fill="#5b88d1" d="M304 759h22v22h-22zM326 781h21v22h-21z"/>
<path fill="#5886d0" d="M326 759h21v22h-21z"/>
<path fill="#5088d3" d="M347 759h22v22h-22z"/>
<path fill="#5089d4" d="M369 759h22v22h-22z"/>
<path fill="#6890d2" d="M412 759h22v22h-22z"/>
<path fill="#6291d3" d="M434 759h22v22h-22z"/>
<path fill="#6799da" d="M499 759h22v22h-22z"/>
<path fill="#6f9fdc" d="M543 759h21v22h-21z"/>
<path fill="#7da5dc" d="M564 759h22v22h-22z"/>
<path fill="#5b89da" d="M22 781h21v22h-21z"/>
<path fill="#5c91d5" d="M87 781h22v22h-22z"/>
<path fill="#5d90d5" d="M174 781h21v22h-21z"/>
<path fill="#5f91d4" d="M195 781h22v22h-22z"/>
<path fill="#558cd4" d="M239 781h21v22h-21zM369 803h22v21h-22z"/>
<path fill="#6090d5" d="M260 781h22v22h-22z"/>
<path fill="#6391d4" d="M282 781h22v22h-22z"/>
<path fill="#5d89d1" d="M304 781h22v22h-22z"/>
<path fill="#5888d2" d="M347 781h22v22h-22z"/>
<path fill="#6090d3" d="M391 781h21v22h-21z"/>
<path fill="#688fd1" d="M412 781h22v22h-22z"/>
<path fill="#608cd1" d="M434 781h22v22h-22z"/>
<path fill="#6191d4" d="M456 781h21v22h-21zM456 824h21v22h-21zM195 1128h22v22h-22z"/>
<path fill="#6b9bda" d="M499 781h22v22h-22zM217 824h22v22h-22z"/>
<path fill="#76a2da" d="M521 781h22v22h-22z"/>
<path fill="#7fa6dc" d="M543 781h21v22h-21z"/>
<path fill="#83a8dc" d="M564 781h22v22h-22z"/>
<path fill="#5889d4" d="M22 803h21v21h-21z"/>
<path fill="#578dd6" d="M43 803h22v21h-22z"/>
<path fill="#5e91d5" d="M65 803h22v21h-22zM43 824h22v22h-22z"/>
<path fill="#6396d9" d="M174 803h21v21h-21z"/>
<path fill="#6393d6" d="M239 803h21v21h-21zM174 824h21v22h-21z"/>
<path fill="#7298d8" d="M282 803h22v21h-22z"/>
<path fill="#6694d5" d="M304 803h22v21h-22zM434 846h22v22h-22z"/>
<path fill="#6190d3" d="M391 803h21v21h-21z"/>
<path fill="#6990d1" d="M412 803h22v21h-22z"/>
<path fill="#628fd3" d="M434 803h22v21h-22z"/>
<path fill="#6291d4" d="M456 803h21v21h-21z"/>
<path fill="#6593d5" d="M477 803h22v21h-22zM477 824h22v22h-22z"/>
<path fill="#739ada" d="M499 803h22v21h-22z"/>
<path fill="#80a5db" d="M521 803h22v21h-22z"/>
<path fill="#84a8dc" d="M543 803h43v21h-43zM543 824h21v22h-21zM217 1063h22v22h-22z"/>
<path fill="#5d92d5" d="M109 824h21v22h-21z"/>
<path fill="#548ed7" d="M130 824h22v22h-22z"/>
<path fill="#6f97d9" d="M195 824h22v22h-22z"/>
<path fill="#6d9eda" d="M239 824h21v22h-21z"/>
<path fill="#78a3d9" d="M260 824h22v22h-22zM260 1193h22v22h-22z"/>
<path fill="#78a3d8" d="M304 824h22v22h-22z"/>
<path fill="#73a0d7" d="M326 824h21v22h-21z"/>
<path fill="#6796d5" d="M347 824h22v22h-22z"/>
<path fill="#6790d1" d="M412 824h22v22h-22z"/>
<path fill="#5f8cd2" d="M434 824h22v22h-22z"/>
<path fill="#749ada" d="M499 824h22v22h-22z"/>
<path fill="#82a6dc" d="M521 824h22v22h-22z"/>
<path fill="#82a7dc" d="M564 824h22v22h-22z"/>
<path fill="#558ed8" d="M22 846h21v22h-21z"/>
<path fill="#5f93d7" d="M43 846h22v22h-22z"/>
<path fill="#6298da" d="M65 846h22v22h-22z"/>
<path fill="#5994da" d="M87 846h22v22h-22z"/>
<path fill="#5394d8" d="M109 846h21v22h-21z"/>
<path fill="#5293d8" d="M130 846h22v22h-22z"/>
<path fill="#5e92d5" d="M152 846h22v22h-22z"/>
<path fill="#7399d9" d="M195 846h22v22h-22z"/>
<path fill="#81aeda" d="M239 846h21v22h-21z"/>
<path fill="#85b1da" d="M260 846h22v22h-22zM304 868h22v22h-22z"/>
<path fill="#87b2da" d="M282 846h22v22h-22z"/>
<path fill="#86b1da" d="M304 846h22v22h-22zM260 868h22v22h-22z"/>
<path fill="#83afd9" d="M326 846h21v22h-21zM326 868h21v22h-21zM456 1193h21v22h-21z"/>
<path fill="#74a2d8" d="M347 846h22v22h-22z"/>
<path fill="#6693d4" d="M412 846h22v22h-22z"/>
<path fill="#6795d5" d="M456 846h21v22h-21z"/>
<path fill="#6896d6" d="M477 846h22v22h-22z"/>
<path fill="#6f9dda" d="M499 846h22v22h-22z"/>
<path fill="#81a8dc" d="M521 846h22v22h-22zM391 890h21v21h-21z"/>
<path fill="#83a9db" d="M543 846h21v22h-21z"/>
<path fill="#7aa4d9" d="M564 846h22v22h-22z"/>
<path fill="#5894db" d="M43 868h22v22h-22z"/>
<path fill="#5896dc" d="M65 868h22v22h-22z"/>
<path fill="#5695dc" d="M87 868h22v22h-22z"/>
<path fill="#5595dc" d="M109 868h21v22h-21z"/>
<path fill="#5695da" d="M130 868h22v22h-22z"/>
<path fill="#5e94d6" d="M152 868h22v22h-22z"/>
<path fill="#6697d9" d="M174 868h21v22h-21z"/>
<path fill="#7398d9" d="M195 868h22v22h-22z"/>
<path fill="#7aa3d9" d="M217 868h22v22h-22z"/>
<path fill="#85b0da" d="M239 868h21v22h-21zM282 868h22v22h-22zM543 868h21v22h-21z"/>
<path fill="#78a5d8" d="M347 868h22v22h-22z"/>
<path fill="#75a2d9" d="M369 868h22v22h-22z"/>
<path fill="#6e9dda" d="M391 868h21v22h-21z"/>
<path fill="#7fa5db" d="M456 868h21v22h-21z"/>
<path fill="#7da4da" d="M477 868h22v22h-22zM260 911h22v22h-22z"/>
<path fill="#78a4d9" d="M499 868h22v22h-22z"/>
<path fill="#83aeda" d="M521 868h22v22h-22z"/>
<path fill="#7ba7d9" d="M564 868h22v22h-22z"/>
<path fill="#5894dc" d="M0 890h22v21h-22z"/>
<path fill="#5f94dc" d="M22 890h21v21h-21z"/>
<path fill="#589cdc" d="M65 890h44v21h-44zM22 998h21v22h-21z"/>
<path fill="#549cdc" d="M109 890h21v21h-21zM43 955h22v21h-22zM43 976h22v22h-22zM43 998h22v22h-22zM22 1193h21v22h-21z"/>
<path fill="#509cdc" d="M130 890h22v21h-22z"/>
<path fill="#4d94d8" d="M152 890h22v21h-22z"/>
<path fill="#5990d4" d="M174 890h21v21h-21z"/>
<path fill="#6c8dd4" d="M195 890h22v21h-22z"/>
<path fill="#80a4db" d="M217 890h22v21h-22z"/>
<path fill="#84aadc" d="M239 890h21v21h-21z"/>
<path fill="#7ba4d9" d="M260 890h22v21h-22z"/>
<path fill="#789ed9" d="M282 890h22v21h-22z"/>
<path fill="#7aa5d9" d="M326 890h43v21h-43z"/>
<path fill="#82acda" d="M369 890h22v21h-22z"/>
<path fill="#84a7dc" d="M412 890h22v21h-22z"/>
<path fill="#86a9dc" d="M434 890h22v21h-22zM521 1172h22v21h-22z"/>
<path fill="#85a9dc" d="M456 890h21v21h-21zM564 1172h22v21h-22z"/>
<path fill="#82a7db" d="M477 890h22v21h-22z"/>
<path fill="#79a4d9" d="M499 890h22v21h-22z"/>
<path fill="#7ca8d9" d="M521 890h22v21h-22z"/>
<path fill="#86b2da" d="M543 890h43v21h-43zM412 1193h22v22h-22z"/>
<path fill="#6098dc" d="M22 911h21v22h-21zM22 933h21v22h-21z"/>
<path fill="#50a0dc" d="M65 911h44v22h-44zM109 933h21v22h-21z"/>
<path fill="#54a0dc" d="M109 911h43v22h-43z"/>
<path fill="#5094d8" d="M152 911h22v22h-22z"/>
<path fill="#6d91dc" d="M195 911h22v22h-22z"/>
<path fill="#85a6dd" d="M217 911h22v22h-22z"/>
<path fill="#8dacde" d="M239 911h21v22h-21z"/>
<path fill="#769cd9" d="M282 911h22v22h-22z"/>
<path fill="#709bd7" d="M304 911h22v22h-22z"/>
<path fill="#81a7db" d="M326 911h21v22h-21z"/>
<path fill="#87aadc" d="M347 911h22v22h-22z"/>
<path fill="#88abdd" d="M369 911h43v22h-43z"/>
<path fill="#8fafde" d="M412 911h22v22h-22z"/>
<path fill="#8fb1de" d="M434 911h22v22h-22z"/>
<path fill="#8ab2db" d="M456 911h21v22h-21z"/>
<path fill="#85abdb" d="M477 911h22v22h-22z"/>
<path fill="#7ea7d9" d="M499 911h22v22h-22z"/>
<path fill="#86b0da" d="M521 911h22v22h-22z"/>
<path fill="#89b5da" d="M543 911h43v22h-43z"/>
<path fill="#5c9ce0" d="M0 933h22v22h-22z"/>
<path fill="#58a0dc" d="M43 933h22v22h-22zM130 933h22v22h-22z"/>
<path fill="#45a4dc" d="M65 933h44v22h-44z"/>
<path fill="#5498d8" d="M152 933h22v22h-22z"/>
<path fill="#6498dc" d="M174 933h21v22h-21zM152 998h22v22h-22z"/>
<path fill="#83a3e0" d="M195 933h22v22h-22z"/>
<path fill="#97a8e4" d="M217 933h22v22h-22z"/>
<path fill="#98a8e4" d="M239 933h21v22h-21z"/>
<path fill="#90acdc" d="M260 933h22v22h-22z"/>
<path fill="#84a8d8" d="M282 933h22v22h-22zM391 1150h21v22h-21z"/>
<path fill="#89acd8" d="M304 933h22v22h-22z"/>
<path fill="#99b8dc" d="M326 933h21v22h-21z"/>
<path fill="#a4bce0" d="M347 933h22v22h-22z"/>
<path fill="#a0b4e4" d="M369 933h22v22h-22z"/>
<path fill="#94bfd8" d="M456 933h21v22h-21z"/>
<path fill="#90b8dc" d="M477 933h22v22h-22z"/>
<path fill="#94b8dc" d="M521 933h22v22h-22z"/>
<path fill="#94bcd8" d="M543 933h21v22h-21z"/>
<path fill="#8cb8d8" d="M564 933h22v22h-22z"/>
<path fill="#589ce0" d="M0 955h22v21h-22zM0 976h22v22h-22zM0 998h22v22h-22z"/>
<path fill="#5c9cdc" d="M22 955h21v21h-21z"/>
<path fill="#4da0e0" d="M65 955h22v21h-22z"/>
<path fill="#5ba4e0" d="M87 955h22v21h-22z"/>
<path fill="#60a4e0" d="M109 955h21v21h-21zM87 976h22v22h-22z"/>
<path fill="#5ca0dc" d="M130 955h22v21h-22z"/>
<path fill="#5c98d8" d="M152 955h22v21h-22z"/>
<path fill="#6898dc" d="M174 955h21v21h-21zM174 976h21v22h-21zM174 998h21v22h-21z"/>
<path fill="#80a0e0" d="M195 955h22v21h-22z"/>
<path fill="#90a8e0" d="M217 955h22v21h-22zM217 976h22v22h-22z"/>
<path fill="#94a8e4" d="M239 955h21v21h-21z"/>
<path fill="#9cb8e4" d="M260 955h22v21h-22z"/>
<path fill="#9cbce0" d="M282 955h22v21h-22z"/>
<path fill="#b0c8e8" d="M304 955h22v21h-22zM369 955h22v21h-22zM434 1107h22v21h-22z"/>
<path fill="#d6dfec" d="M326 955h21v21h-21z"/>
<path fill="#d3dbec" d="M347 955h22v21h-22z"/>
<path fill="#a0bce4" d="M391 955h21v21h-21zM260 976h22v22h-22z"/>
<path fill="#8daddc" d="M412 955h22v21h-22z"/>
<path fill="#8db4dc" d="M434 955h22v21h-22z"/>
<path fill="#9fc3dc" d="M456 955h21v21h-21z"/>
<path fill="#98bcdc" d="M477 955h22v21h-22z"/>
<path fill="#8db1dc" d="M499 955h22v21h-22z"/>
<path fill="#98c0dc" d="M543 955h43v21h-43zM477 976h22v22h-22z"/>
<path fill="#58a0d8" d="M22 976h21v22h-21z"/>
<path fill="#64a4e0" d="M109 976h21v22h-21z"/>
<path fill="#60a0e0" d="M130 976h22v22h-22zM130 998h22v22h-22zM152 1041h22v22h-22z"/>
<path fill="#7ca0e0" d="M195 976h22v22h-22zM195 998h22v22h-22z"/>
<path fill="#91ace0" d="M239 976h21v22h-21z"/>
<path fill="#a9c8ec" d="M282 976h22v22h-22z"/>
<path fill="#d4e0f4" d="M304 976h22v22h-22zM369 1041h43v22h-43z"/>
<path fill="#faf3f8" d="M326 976h21v22h-21z"/>
<path fill="#dbe4f0" d="M347 976h22v22h-22z"/>
<path fill="#b5d4ec" d="M369 976h22v22h-22zM369 1063h22v22h-22z"/>
<path fill="#a1c0e8" d="M391 976h21v22h-21z"/>
<path fill="#a4bce4" d="M412 976h22v22h-22zM260 1085h22v22h-22z"/>
<path fill="#a0c4dc" d="M456 976h21v22h-21z"/>
<path fill="#98c0e0" d="M499 976h22v22h-22z"/>
<path fill="#8dbddc" d="M521 976h22v22h-22z"/>
<path fill="#a3cbe0" d="M543 976h21v22h-21z"/>
<path fill="#9cc4dc" d="M564 976h22v22h-22z"/>
<path fill="#58a4e4" d="M65 998h22v22h-22zM130 1063h22v22h-22zM130 1085h22v22h-22zM87 1193h22v22h-22z"/>
<path fill="#5ca4e4" d="M87 998h43v22h-43zM130 1041h22v22h-22z"/>
<path fill="#8ca8e0" d="M217 998h22v22h-22z"/>
<path fill="#98b0e0" d="M239 998h21v22h-21z"/>
<path fill="#b3c8e8" d="M260 998h22v22h-22zM456 1107h21v21h-21z"/>
<path fill="#c4d4f0" d="M282 998h22v22h-22z"/>
<path fill="#e3e7f4" d="M304 998h22v22h-22z"/>
<path fill="#f3eff8" d="M326 998h21v22h-21z"/>
<path fill="#d1dcf4" d="M347 998h22v22h-22z"/>
<path fill="#c1d4f4" d="M369 998h22v22h-22z"/>
<path fill="#bcd0f0" d="M391 998h21v22h-21z"/>
<path fill="#b7cce8" d="M434 998h22v22h-22z"/>
<path fill="#a4c8e0" d="M456 998h21v22h-21zM564 998h22v22h-22z"/>
<path fill="#a0c4e0" d="M477 998h22v22h-22z"/>
<path fill="#9cc4e0" d="M499 998h22v22h-22z"/>
<path fill="#a3cce0" d="M521 998h22v22h-22z"/>
<path fill="#a4cce0" d="M543 998h21v22h-21zM499 1107h22v21h-22z"/>
<path fill="#5ca0e0" d="M0 1020h22v21h-22zM0 1041h22v22h-22zM152 1085h22v22h-22zM0 1193h22v22h-22z"/>
<path fill="#58a0e0" d="M22 1020h21v21h-21zM152 1063h22v22h-22zM152 1172h22v21h-22z"/>
<path fill="#50a4e0" d="M43 1020h22v21h-22z"/>
<path fill="#50a8e4" d="M65 1020h22v21h-22z"/>
<path fill="#50a8e8" d="M87 1020h22v21h-22zM109 1041h21v22h-21z"/>
<path fill="#51a8e8" d="M109 1020h21v21h-21z"/>
<path fill="#60a4e4" d="M130 1020h22v21h-22z"/>
<path fill="#6ca0dc" d="M174 1020h21v21h-21z"/>
<path fill="#98b4e0" d="M239 1020h21v21h-21zM239 1041h21v22h-21zM543 1150h21v22h-21z"/>
<path fill="#b8c8e8" d="M260 1020h22v21h-22z"/>
<path fill="#dbdcf4" d="M282 1020h22v21h-22z"/>
<path fill="#ebe4f4" d="M304 1020h22v21h-22z"/>
<path fill="#e0ddf4" d="M326 1020h21v21h-21z"/>
<path fill="#d8dcf8" d="M347 1020h22v21h-22z"/>
<path fill="#dbe0fc" d="M369 1020h22v21h-22z"/>
<path fill="#dbe0f8" d="M391 1020h21v21h-21z"/>
<path fill="#dbdff4" d="M412 1020h22v21h-22z"/>
<path fill="#c4d4ec" d="M434 1020h22v21h-22z"/>
<path fill="#a9cce4" d="M456 1020h21v21h-21z"/>
<path fill="#a4c8e4" d="M477 1020h22v21h-22z"/>
<path fill="#99c1e4" d="M499 1020h22v21h-22z"/>
<path fill="#a4cce4" d="M521 1020h22v21h-22z"/>
<path fill="#accce4" d="M543 1020h21v21h-21zM543 1085h43v22h-43z"/>
<path fill="#a8c8e0" d="M564 1020h22v21h-22z"/>
<path fill="#58a4e0" d="M22 1041h21v22h-21zM0 1063h22v22h-22zM0 1085h22v22h-22z"/>
<path fill="#58a8e4" d="M43 1041h22v22h-22zM130 1107h22v21h-22zM43 1128h22v22h-22zM130 1128h22v22h-22zM43 1150h22v22h-22zM130 1150h22v22h-22zM43 1172h22v21h-22z"/>
<path fill="#57b0e4" d="M65 1041h22v22h-22z"/>
<path fill="#50ace8" d="M87 1041h22v22h-22z"/>
<path fill="#73a4dc" d="M174 1041h21v22h-21z"/>
<path fill="#7fa8dc" d="M195 1041h22v22h-22z"/>
<path fill="#dbdff0" d="M282 1041h22v22h-22z"/>
<path fill="#e0e0f4" d="M304 1041h22v22h-22z"/>
<path fill="#e0e4f8" d="M326 1041h21v22h-21z"/>
<path fill="#dce4f8" d="M347 1041h22v22h-22z"/>
<path fill="#dbe3f0" d="M412 1041h22v22h-22z"/>
<path fill="#c4d8ec" d="M434 1041h22v22h-22z"/>
<path fill="#b0d0e8" d="M456 1041h21v22h-21z"/>
<path fill="#acd0e8" d="M477 1041h44v22h-44zM477 1085h22v22h-22z"/>
<path fill="#b0d4e8" d="M521 1041h22v22h-22z"/>
<path fill="#bcd4e8" d="M543 1041h21v22h-21z"/>
<path fill="#bcd0e4" d="M564 1041h22v22h-22z"/>
<path fill="#54a8e0" d="M22 1063h43v22h-43zM22 1085h43v22h-43zM0 1107h43v21h-43zM0 1128h43v22h-43zM0 1150h22v22h-22z"/>
<path fill="#4db0e4" d="M65 1063h22v22h-22z"/>
<path fill="#50ace4" d="M87 1063h22v22h-22z"/>
<path fill="#54a8e4" d="M109 1063h21v22h-21z"/>
<path fill="#5d9cdc" d="M174 1063h21v22h-21z"/>
<path fill="#d3dff0" d="M282 1063h22v22h-22z"/>
<path fill="#d0dff4" d="M304 1063h22v22h-22z"/>
<path fill="#dae7fb" d="M326 1063h21v22h-21z"/>
<path fill="#cbdff4" d="M347 1063h22v22h-22z"/>
<path fill="#b8d4f0" d="M391 1063h21v22h-21z"/>
<path fill="#c0d4f4" d="M412 1063h22v22h-22z"/>
<path fill="#c4d8f0" d="M434 1063h22v22h-22z"/>
<path fill="#b4d4ec" d="M456 1063h21v22h-21z"/>
<path fill="#b4d8ec" d="M477 1063h22v22h-22z"/>
<path fill="#b4d8e8" d="M499 1063h22v22h-22z"/>
<path fill="#b8d4e8" d="M521 1063h22v22h-22z"/>
<path fill="#c3d8ec" d="M543 1063h21v22h-21z"/>
<path fill="#58b0e4" d="M65 1085h22v22h-22z"/>
<path fill="#58ace4" d="M87 1085h22v22h-22z"/>
<path fill="#5fb0e8" d="M109 1085h21v22h-21z"/>
<path fill="#6c95d8" d="M195 1085h22v22h-22zM195 1107h22v21h-22z"/>
<path fill="#a8c0e8" d="M282 1085h44v22h-44z"/>
<path fill="#a8c4e8" d="M326 1085h43v22h-43zM391 1085h21v22h-21z"/>
<path fill="#a0c0e4" d="M369 1085h22v22h-22zM434 1128h22v22h-22z"/>
<path fill="#b8d0ec" d="M412 1085h22v22h-22z"/>
<path fill="#bfd4ec" d="M434 1085h22v22h-22z"/>
<path fill="#b0d0ec" d="M456 1085h21v22h-21z"/>
<path fill="#a8d4e4" d="M499 1085h22v22h-22z"/>
<path fill="#54ace4" d="M43 1107h22v21h-22z"/>
<path fill="#54b0e4" d="M65 1107h22v21h-22z"/>
<path fill="#5cb0e8" d="M87 1107h22v21h-22zM109 1128h21v22h-21zM109 1150h21v22h-21z"/>
<path fill="#60b3e8" d="M109 1107h21v21h-21z"/>
<path fill="#51a0e0" d="M152 1107h22v21h-22z"/>
<path fill="#679fdc" d="M174 1107h21v21h-21z"/>
<path fill="#88b0dc" d="M239 1107h21v21h-21z"/>
<path fill="#84acdc" d="M260 1107h22v21h-22z"/>
<path fill="#7d9ddc" d="M282 1107h22v21h-22z"/>
<path fill="#79a1d8" d="M304 1107h22v21h-22z"/>
<path fill="#79a1d5" d="M326 1107h21v21h-21z"/>
<path fill="#85a5d5" d="M347 1107h22v21h-22z"/>
<path fill="#98b4dc" d="M391 1107h21v21h-21z"/>
<path fill="#acc8e8" d="M412 1107h22v21h-22z"/>
<path fill="#a4ccdc" d="M521 1107h22v21h-22z"/>
<path fill="#a0c8d8" d="M543 1107h21v21h-21z"/>
<path fill="#a4c4dc" d="M564 1107h22v21h-22z"/>
<path fill="#5ca8ec" d="M65 1128h22v22h-22zM65 1150h22v22h-22z"/>
<path fill="#5cace8" d="M87 1128h22v22h-22zM87 1150h22v22h-22zM87 1172h43v21h-43z"/>
<path fill="#54a0e0" d="M152 1128h22v22h-22z"/>
<path fill="#7ca8d8" d="M239 1128h21v22h-21zM326 1128h21v22h-21zM282 1150h22v22h-22z"/>
<path fill="#7ca4d8" d="M260 1128h22v22h-22z"/>
<path fill="#84a8d4" d="M347 1128h22v22h-22zM347 1150h22v22h-22z"/>
<path fill="#7d9dd4" d="M369 1128h22v22h-22z"/>
<path fill="#8cacdc" d="M391 1128h21v22h-21zM521 1150h22v22h-22z"/>
<path fill="#9fc0e4" d="M412 1128h22v22h-22z"/>
<path fill="#a4c0e0" d="M456 1128h43v22h-43z"/>
<path fill="#a0c0dc" d="M499 1128h22v22h-22z"/>
<path fill="#9cbcdc" d="M521 1128h22v22h-22z"/>
<path fill="#a4c0dc" d="M543 1128h43v22h-43z"/>
<path fill="#54ace0" d="M22 1150h21v22h-21z"/>
<path fill="#5fa4e0" d="M152 1150h22v22h-22z"/>
<path fill="#5d91d4" d="M195 1150h22v22h-22z"/>
<path fill="#7ca8d4" d="M260 1150h22v22h-22z"/>
<path fill="#7cacd8" d="M304 1150h22v22h-22z"/>
<path fill="#7c99d4" d="M369 1150h22v22h-22z"/>
<path fill="#8cb4dc" d="M412 1150h22v22h-22z"/>
<path fill="#94b8e0" d="M434 1150h22v22h-22z"/>
<path fill="#90b4dc" d="M456 1150h21v22h-21z"/>
<path fill="#98b8e0" d="M564 1150h22v22h-22z"/>
<path fill="#58a8e0" d="M0 1172h22v21h-22z"/>
<path fill="#54a8dc" d="M22 1172h21v21h-21z"/>
<path fill="#5ca8e8" d="M65 1172h22v21h-22z"/>
<path fill="#54a4e4" d="M130 1172h22v21h-22z"/>
<path fill="#72a0d9" d="M217 1172h22v21h-22z"/>
<path fill="#7ea6da" d="M239 1172h21v21h-21z"/>
<path fill="#81a7da" d="M260 1172h22v21h-22z"/>
<path fill="#7ca3d9" d="M326 1172h21v21h-21z"/>
<path fill="#7ca1d9" d="M347 1172h22v21h-22z"/>
<path fill="#779ad8" d="M369 1172h22v21h-22z"/>
<path fill="#81a6da" d="M391 1172h21v21h-21z"/>
<path fill="#88b2da" d="M412 1172h22v21h-22z"/>
<path fill="#88b3da" d="M434 1172h22v21h-22z"/>
<path fill="#7ea9d9" d="M456 1172h21v21h-21z"/>
<path fill="#7ca5d9" d="M477 1172h22v21h-22z"/>
<path fill="#589ddc" d="M43 1193h22v22h-22z"/>
<path fill="#5cabdc" d="M65 1193h22v22h-22z"/>
<path fill="#58a4ec" d="M109 1193h21v22h-21z"/>
<path fill="#50a0e4" d="M130 1193h22v22h-22z"/>
<path fill="#4c98dc" d="M152 1193h43v22h-43z"/>
<path fill="#5198dc" d="M195 1193h22v22h-22z"/>
<path fill="#76a1d8" d="M282 1193h22v22h-22z"/>
<path fill="#6896d5" d="M304 1193h22v22h-22z"/>
<path fill="#628dd2" d="M326 1193h21v22h-21z"/>
<path fill="#618cd2" d="M347 1193h22v22h-22z"/>
<path fill="#638dd3" d="M369 1193h22v22h-22z"/>
<path fill="#87b3da" d="M434 1193h22v22h-22z"/>
<path fill="#7da5d9" d="M477 1193h22v22h-22z"/>
<path fill="#8ea7de" d="M499 1193h22v22h-22z"/>
<path fill="#85a6dc" d="M521 1193h22v22h-22z"/>
<path fill="#7a9eda" d="M543 1193h21v22h-21z"/>
<path fill="#78a2d9" d="M564 1193h22v22h-22z"/>
<g fill="#0a0a1e" shape-rendering="geometricPrecision">
<circle cx="423.4" cy="200.1" r="1.45"/>
<circle cx="445.5" cy="202.4" r="1.45"/>
<circle cx="466.5" cy="202.4" r="1.45"/>
<circle cx="475.4" cy="206.3" r="1.45"/>
<circle cx="409.3" cy="206.3" r="1.45"/>
<circle cx="401.3" cy="213.1" r="1.45"/>
<circle cx="488.4" cy="217.2" r="1.45"/>
<circle cx="387.2" cy="228.4" r="1.45"/>
<circle cx="497.5" cy="228.4" r="1.45"/>
<circle cx="380.2" cy="234.4" r="1.45"/>
<circle cx="368.3" cy="250.2" r="1.45"/>
<circle cx="510.2" cy="250.2" r="1.45"/>
<circle cx="380.2" cy="267.4" r="1.45"/>
<circle cx="390.4" cy="271.3" r="1.45"/>
<circle cx="401.3" cy="274.2" r="1.45"/>
<circle cx="423.4" cy="279.1" r="1.45"/>
<circle cx="521.4" cy="271.3" r="1.45"/>
<circle cx="532.3" cy="279.1" r="1.45"/>
<circle cx="574.4" cy="270.3" r="1.45"/>
<circle cx="438.5" cy="293.1" r="1.45"/>
<circle cx="553.4" cy="293.1" r="1.45"/>
<circle cx="445.5" cy="309.2" r="1.45"/>
<circle cx="445.5" cy="309.3" r="1.45"/>
<circle cx="447.6" cy="315.3" r="1.45"/>
<circle cx="457.4" cy="336.1" r="1.45"/>
<circle cx="445.5" cy="344.2" r="1.45"/>
<circle cx="423.4" cy="356.4" r="1.45"/>
<circle cx="418.4" cy="358.2" r="1.45"/>
<circle cx="401.3" cy="375.4" r="1.45"/>
<circle cx="398.4" cy="380.3" r="1.45"/>
<circle cx="358.4" cy="393.1" r="1.45"/>
<circle cx="380.2" cy="393.1" r="1.45"/>
<circle cx="336.3" cy="399.3" r="1.45"/>
<circle cx="334.2" cy="400.8" r="1.45"/>
<circle cx="319.4" cy="423.2" r="1.45"/>
<circle cx="319.4" cy="445.3" r="1.45"/>
<circle cx="324.3" cy="466.1" r="1.45"/>
<circle cx="229.4" cy="597.1" r="1.45"/>
<circle cx="231.5" cy="617.1" r="1.45"/>
<circle cx="243.5" cy="640.1" r="1.45"/>
<circle cx="250.2" cy="645.3" r="1.45"/>
<circle cx="267.4" cy="640.1" r="1.45"/>
<circle cx="271.3" cy="639.1" r="1.45"/>
<circle cx="293.1" cy="638.3" r="1.45"/>
<circle cx="295.2" cy="640.1" r="1.45"/>
<circle cx="312.4" cy="662.2" r="1.45"/>
<circle cx="315.2" cy="664.3" r="1.45"/>
<circle cx="330.3" cy="683.3" r="1.45"/>
<circle cx="336.3" cy="690.3" r="1.45"/>
<circle cx="358.4" cy="702.2" r="1.45"/>
<circle cx="364.4" cy="705.1" r="1.45"/>
<circle cx="380.2" cy="712.4" r="1.45"/>
<circle cx="395.3" cy="727.2" r="1.45"/>
<circle cx="401.3" cy="736.3" r="1.45"/>
<circle cx="423.4" cy="749.3" r="1.45"/>
<circle cx="445.5" cy="753.2" r="1.45"/>
<circle cx="466.5" cy="758.4" r="1.45"/>
<circle cx="479.3" cy="770.1" r="1.45"/>
<circle cx="481.4" cy="792.2" r="1.45"/>
<circle cx="482.4" cy="814.3" r="1.45"/>
<circle cx="476.4" cy="835.1" r="1.45"/>
<circle cx="471.5" cy="857.2" r="1.45"/>
<circle cx="466.5" cy="861.1" r="1.45"/>
<circle cx="445.5" cy="860.3" r="1.45"/>
<circle cx="423.4" cy="859.3" r="1.45"/>
<circle cx="401.3" cy="858.2" r="1.45"/>
<circle cx="393.2" cy="857.2" r="1.45"/>
<circle cx="380.2" cy="850.2" r="1.45"/>
<circle cx="369.3" cy="835.1" r="1.45"/>
<circle cx="358.4" cy="824.2" r="1.45"/>
<circle cx="346.4" cy="814.3" r="1.45"/>
<circle cx="336.3" cy="806.2" r="1.45"/>
<circle cx="315.2" cy="800.3" r="1.45"/>
<circle cx="293.1" cy="799.2" r="1.45"/>
<circle cx="271.3" cy="805.2" r="1.45"/>
<circle cx="250.2" cy="811.2" r="1.45"/>
<circle cx="246.3" cy="814.3" r="1.45"/>
<circle cx="233.3" cy="835.1" r="1.45"/>
<circle cx="228.4" cy="857.2" r="1.45"/>
<circle cx="231.5" cy="879.3" r="1.45"/>
<circle cx="246.3" cy="900.4" r="1.45"/>
<circle cx="234.4" cy="921.1" r="1.45"/>
<circle cx="228.4" cy="943.1" r="1.45"/>
<circle cx="227.4" cy="945.2" r="1.45"/>
<circle cx="238.3" cy="965.2" r="1.45"/>
<circle cx="250.2" cy="984.4" r="1.45"/>
<circle cx="251.3" cy="987.3" r="1.45"/>
<circle cx="250.2" cy="990.4" r="1.45"/>
<circle cx="240.4" cy="1009.1" r="1.45"/>
<circle cx="232.3" cy="1031.2" r="1.45"/>
<circle cx="233.3" cy="1052.3" r="1.45"/>
<circle cx="234.4" cy="1074.1" r="1.45"/>
<circle cx="246.3" cy="1096.2" r="1.45"/>
<circle cx="250.2" cy="1100.4" r="1.45"/>
<circle cx="271.3" cy="1114.1" r="1.45"/>
<circle cx="277.3" cy="1117.3" r="1.45"/>
<circle cx="283.3" cy="1139.1" r="1.45"/>
<circle cx="293.1" cy="1151.1" r="1.45"/>
<circle cx="298.3" cy="1161.2" r="1.45"/>
<circle cx="309.2" cy="1182.3" r="1.45"/>
<circle cx="315.2" cy="1189.3" r="1.45"/>
<circle cx="331.3" cy="1204.4" r="1.45"/>
<circle cx="575.3" cy="270.8" r="1.45"/>
</g>
</svg>
<svg class="p" style="left:873px;top:53px" width="586" height="1215" viewBox="0 0 586 1215" shape-rendering="crispEdges">
<path fill="#552497" d="M0 0h586v22h-586zM0 22h586v21h-586zM0 43h564v22h-564zM0 65h543v22h-543zM0 87h543v21h-543zM0 108h586v22h-586zM0 130h586v22h-586zM0 152h586v22h-586zM0 174h586v21h-586zM0 195h412v22h-412zM499 195h87v22h-87zM0 217h391v22h-391zM521 217h65v22h-65zM0 239h391v21h-391zM521 239h43v21h-43zM0 260h412v22h-412zM543 260h21v22h-21zM0 282h434v22h-434zM0 304h456v21h-456zM0 325h456v22h-456zM0 347h434v22h-434zM0 369h412v22h-412zM0 391h369v21h-369zM0 412h347v22h-347zM0 434h347v22h-347zM174 456h152v21h-152zM174 477h130v22h-130zM0 521h152v21h-152zM0 542h152v22h-152zM0 564h239v22h-239zM0 586h239v22h-239zM0 608h260v21h-260zM0 629h326v22h-326zM0 651h326v22h-326zM0 673h347v21h-347zM0 694h391v22h-391zM0 716h412v22h-412zM0 738h434v21h-434zM0 759h477v22h-477zM0 781h499v22h-499zM0 803h282v21h-282zM304 803h195v21h-195zM0 824h260v22h-260zM369 824h130v22h-130zM0 846h239v22h-239zM391 846h86v22h-86zM0 868h239v22h-239zM0 890h282v21h-282zM0 911h239v22h-239zM260 911h22v22h-22zM0 933h217v22h-217zM0 955h260v21h-260zM0 976h260v22h-260zM0 998h260v22h-260zM0 1020h260v21h-260zM0 1041h260v22h-260zM0 1063h260v22h-260zM0 1085h260v22h-260zM0 1107h347v21h-347zM0 1128h304v22h-304zM0 1150h282v22h-282zM0 1172h304v21h-304zM0 1193h326v22h-326z"/>
<path fill="#8c468c" d="M564 43h22v22h-22zM543 65h43v22h-43zM543 87h43v21h-43zM369 391h43v21h-43zM369 412h22v22h-22zM391 434h21v22h-21zM304 477h22v22h-22zM434 477h22v22h-22zM521 499h22v22h-22zM543 521h21v21h-21zM434 738h43v21h-43zM564 781h22v22h-22zM282 803h22v21h-22zM543 803h43v21h-43zM260 824h22v22h-22zM564 824h22v22h-22zM239 846h43v22h-43zM543 846h43v22h-43zM239 868h21v22h-21zM543 868h43v22h-43zM239 911h21v22h-21zM347 911h22v22h-22zM412 911h44v22h-44zM477 911h22v22h-22zM217 933h65v22h-65zM499 933h22v22h-22zM499 955h44v21h-44zM304 1128h43v22h-43zM282 1150h65v22h-65zM391 1150h21v22h-21zM304 1172h22v21h-22zM499 1172h87v21h-87zM412 1193h174v22h-174z"/>
<path fill="#84408a" d="M412 195h87v22h-87zM434 217h87v22h-87zM434 239h87v21h-87zM564 239h22v21h-22zM412 260h65v22h-65zM564 260h22v22h-22zM434 282h22v22h-22zM434 347h43v22h-43zM412 521h22v21h-22zM412 608h65v21h-65zM477 629h22v22h-22zM412 673h22v21h-22zM477 673h22v21h-22zM391 694h21v22h-21zM456 694h21v22h-21zM499 759h44v22h-44zM434 868h22v22h-22zM282 890h44v21h-44zM282 911h44v22h-44z"/>
<path fill="#8b458c" d="M391 217h21v22h-21zM391 239h21v21h-21zM564 347h22v22h-22zM347 412h22v22h-22zM326 477h21v22h-21zM326 629h21v22h-21zM326 651h21v22h-21zM347 673h22v21h-22zM412 716h44v22h-44zM477 759h22v22h-22zM543 781h21v22h-21zM282 846h22v22h-22zM260 868h22v22h-22zM521 868h22v22h-22zM369 890h22v21h-22zM434 890h65v21h-65zM521 890h65v21h-65zM521 933h65v22h-65zM347 1128h22v22h-22zM347 1150h22v22h-22zM326 1172h21v21h-21zM391 1172h21v21h-21zM391 1193h21v22h-21z"/>
<path fill="#85418a" d="M412 217h22v22h-22zM412 239h22v21h-22zM477 347h66v22h-66zM412 369h22v22h-22zM326 456h86v21h-86zM369 477h43v22h-43zM434 499h43v22h-43zM391 521h21v21h-21zM369 608h43v21h-43zM412 629h65v22h-65zM391 651h43v22h-43zM434 673h43v21h-43zM412 694h44v22h-44zM543 759h21v22h-21zM499 781h22v22h-22zM499 803h22v21h-22zM326 824h43v22h-43zM499 846h22v22h-22zM304 868h43v22h-43zM369 868h22v22h-22zM456 868h21v22h-21zM326 890h21v21h-21zM326 1193h65v22h-65z"/>
<path fill="#833f8a" d="M477 260h66v22h-66zM456 282h21v22h-21zM477 608h22v21h-22zM564 738h22v21h-22z"/>
<path fill="#7e3b88" d="M477 282h22v22h-22zM564 325h22v22h-22zM477 694h22v22h-22zM543 738h21v21h-21z"/>
<path fill="#7d3b88" d="M499 282h65v22h-65zM456 304h21v21h-21zM564 304h22v21h-22zM456 325h108v22h-108zM456 521h65v21h-65zM499 608h22v21h-22zM499 629h22v22h-22zM521 651h22v22h-22zM499 694h44v22h-44zM564 716h22v22h-22zM521 738h22v21h-22z"/>
<path fill="#823f8a" d="M564 282h22v22h-22zM499 673h22v21h-22z"/>
<path fill="#7c3a88" d="M477 304h87v21h-87zM521 608h65v21h-65zM521 629h65v22h-65zM543 651h43v22h-43zM564 673h22v21h-22zM543 694h43v22h-43zM499 716h65v22h-65z"/>
<path fill="#86418b" d="M543 347h21v22h-21zM347 608h22v21h-22zM282 933h22v22h-22z"/>
<path fill="#87428b" d="M434 369h22v22h-22zM499 499h22v22h-22zM326 608h21v21h-21zM326 911h21v22h-21zM499 911h22v22h-22zM369 1128h22v22h-22z"/>
<path fill="#8d468d" d="M456 369h21v22h-21zM347 586h22v22h-22z"/>
<path fill="#954b90" d="M477 369h22v22h-22zM412 412h22v22h-22zM434 456h22v21h-22zM564 499h22v22h-22zM347 564h22v22h-22zM369 933h22v22h-22zM564 976h22v22h-22zM477 998h66v22h-66zM521 1128h65v22h-65zM434 1150h43v22h-43z"/>
<path fill="#974c90" d="M499 369h44v22h-44zM564 369h22v22h-22z"/>
<path fill="#964c90" d="M543 369h21v22h-21zM564 477h22v22h-22zM347 933h22v22h-22zM260 976h22v22h-22zM412 976h22v22h-22zM456 998h21v22h-21zM543 998h43v22h-43zM543 1107h43v21h-43zM412 1128h22v22h-22zM499 1128h22v22h-22z"/>
<path fill="#8d478d" d="M412 391h22v21h-22zM412 955h22v21h-22z"/>
<path fill="#944b8f" d="M434 391h22v21h-22zM456 477h21v22h-21zM326 933h21v22h-21zM260 955h22v21h-22zM543 976h21v22h-21zM412 1150h22v22h-22zM477 1150h22v22h-22z"/>
<path fill="#994e91" d="M456 391h21v21h-21zM434 434h22v22h-22zM304 1085h43v22h-43z"/>
<path fill="#a75795" d="M477 391h22v21h-22zM304 976h22v22h-22z"/>
<path fill="#ae5c97" d="M499 391h22v21h-22zM521 456h22v21h-22z"/>
<path fill="#ad5b97" d="M521 391h22v21h-22z"/>
<path fill="#a35595" d="M543 391h21v21h-21z"/>
<path fill="#a55695" d="M564 391h22v21h-22zM347 955h22v21h-22z"/>
<path fill="#8d478c" d="M391 412h21v22h-21zM369 911h43v22h-43zM456 911h21v22h-21zM434 955h65v21h-65zM543 955h43v21h-43zM477 976h44v22h-44zM347 1107h22v21h-22zM521 1150h65v22h-65zM412 1172h87v21h-87z"/>
<path fill="#9e5293" d="M434 412h22v22h-22zM499 477h44v22h-44zM282 586h22v22h-22zM434 998h22v22h-22zM499 1107h22v21h-22z"/>
<path fill="#a75895" d="M456 412h21v22h-21z"/>
<path fill="#b56298" d="M477 412h22v22h-22z"/>
<path fill="#bd699b" d="M499 412h22v22h-22zM499 434h22v22h-22z"/>
<path fill="#bc689b" d="M521 412h22v22h-22zM521 434h22v22h-22z"/>
<path fill="#af5c98" d="M543 412h21v22h-21zM499 456h22v21h-22z"/>
<path fill="#a85896" d="M564 412h22v22h-22zM477 456h22v21h-22zM347 1020h22v21h-22zM347 1041h22v22h-22zM391 1041h21v22h-21z"/>
<path fill="#86418a" d="M347 434h22v22h-22zM412 477h22v22h-22zM369 651h22v22h-22zM304 824h22v22h-22zM282 868h22v22h-22zM347 868h22v22h-22zM477 868h44v22h-44zM521 911h65v22h-65zM369 1150h22v22h-22zM369 1172h22v21h-22z"/>
<path fill="#8a458c" d="M369 434h22v22h-22zM347 477h22v22h-22zM391 499h21v22h-21zM347 629h44v22h-44zM456 651h21v22h-21zM369 673h22v21h-22zM564 759h22v22h-22zM521 781h22v22h-22zM521 803h22v21h-22zM304 846h87v22h-87zM521 846h22v22h-22zM347 890h22v21h-22zM391 890h43v21h-43zM499 890h22v21h-22zM347 1172h22v21h-22z"/>
<path fill="#934a8f" d="M412 434h22v22h-22zM326 586h21v22h-21zM391 933h21v22h-21zM456 933h43v22h-43z"/>
<path fill="#ac5a97" d="M456 434h21v22h-21zM282 1020h22v21h-22z"/>
<path fill="#b66298" d="M477 434h22v22h-22z"/>
<path fill="#aa5a96" d="M543 434h21v22h-21z"/>
<path fill="#a15494" d="M564 434h22v22h-22zM543 456h21v21h-21zM239 564h21v22h-21zM260 1041h22v22h-22zM369 1063h43v22h-43z"/>
<path fill="#bc6699" d="M0 456h174v21h-174zM0 477h174v22h-174zM0 499h391v22h-391zM152 521h239v21h-239zM152 542h434v22h-434zM369 564h217v22h-217zM369 586h217v22h-217z"/>
<path fill="#88428b" d="M412 456h22v21h-22z"/>
<path fill="#a05394" d="M456 456h21v21h-21zM260 586h22v22h-22zM412 998h22v22h-22z"/>
<path fill="#984e91" d="M564 456h22v21h-22zM456 1020h21v21h-21zM282 1085h22v22h-22zM521 1085h22v22h-22z"/>
<path fill="#974d90" d="M477 477h22v22h-22zM543 477h21v22h-21zM326 564h21v22h-21zM304 586h22v22h-22zM260 608h22v21h-22zM304 955h22v21h-22zM391 976h21v22h-21zM477 1020h109v21h-109zM347 1085h44v22h-44zM543 1085h43v22h-43zM521 1107h22v21h-22zM434 1128h65v22h-65z"/>
<path fill="#89448b" d="M412 499h22v22h-22zM391 629h21v22h-21zM434 651h22v22h-22zM477 738h22v21h-22z"/>
<path fill="#85418b" d="M477 499h22v22h-22z"/>
<path fill="#8e478d" d="M543 499h21v22h-21zM282 955h22v21h-22zM456 976h21v22h-21zM521 976h22v22h-22zM499 1150h22v22h-22z"/>
<path fill="#7e3c89" d="M434 521h22v21h-22zM499 651h22v22h-22zM499 738h22v21h-22z"/>
<path fill="#7f3d89" d="M521 521h22v21h-22z"/>
<path fill="#954b8f" d="M564 521h22v21h-22z"/>
<path fill="#a65796" d="M260 564h22v22h-22z"/>
<path fill="#a65795" d="M282 564h22v22h-22zM326 955h21v21h-21zM282 1063h22v22h-22zM347 1063h22v22h-22z"/>
<path fill="#9f5393" d="M304 564h22v22h-22zM369 976h22v22h-22z"/>
<path fill="#a05494" d="M239 586h21v22h-21zM282 998h22v22h-22zM391 998h21v22h-21zM434 1020h22v21h-22zM260 1063h22v22h-22zM434 1063h87v22h-87zM412 1085h87v22h-87z"/>
<path fill="#8f488d" d="M282 608h22v21h-22zM391 955h21v21h-21z"/>
<path fill="#8d468c" d="M304 608h22v21h-22zM412 933h44v22h-44zM369 1107h22v21h-22zM391 1128h21v22h-21z"/>
<path fill="#86428b" d="M347 651h22v22h-22zM521 824h22v22h-22z"/>
<path fill="#89438b" d="M477 651h22v22h-22z"/>
<path fill="#85408a" d="M391 673h21v21h-21zM499 824h22v22h-22z"/>
<path fill="#813e89" d="M521 673h22v21h-22z"/>
<path fill="#7d3a88" d="M543 673h21v21h-21z"/>
<path fill="#8a448b" d="M456 716h21v22h-21zM477 846h22v22h-22z"/>
<path fill="#7f3c89" d="M477 716h22v22h-22zM391 868h43v22h-43z"/>
<path fill="#8b468c" d="M282 824h22v22h-22zM543 824h21v22h-21z"/>
<path fill="#88438b" d="M304 933h22v22h-22z"/>
<path fill="#984d91" d="M369 955h22v21h-22zM282 976h22v22h-22zM260 998h22v22h-22z"/>
<path fill="#b7659a" d="M326 976h21v22h-21z"/>
<path fill="#a95996" d="M347 976h22v22h-22zM347 998h22v22h-22zM326 1041h21v22h-21z"/>
<path fill="#954c90" d="M434 976h22v22h-22z"/>
<path fill="#aa5996" d="M304 998h22v22h-22zM326 1020h21v21h-21z"/>
<path fill="#b46198" d="M326 998h21v22h-21z"/>
<path fill="#a25594" d="M369 998h22v22h-22z"/>
<path fill="#9a4f91" d="M260 1020h22v21h-22z"/>
<path fill="#ae5b98" d="M304 1020h22v21h-22zM304 1041h22v22h-22z"/>
<path fill="#a75896" d="M369 1020h43v21h-43zM369 1041h22v22h-22z"/>
<path fill="#a75796" d="M412 1020h22v21h-22zM304 1063h22v22h-22z"/>
<path fill="#ad5a97" d="M282 1041h22v22h-22z"/>
<path fill="#ab5a97" d="M412 1041h22v22h-22z"/>
<path fill="#a15594" d="M434 1041h22v22h-22zM412 1063h22v22h-22z"/>
<path fill="#9f5394" d="M456 1041h130v22h-130zM521 1063h65v22h-65zM499 1085h22v22h-22zM434 1107h65v21h-65z"/>
<path fill="#ab5997" d="M326 1063h21v22h-21z"/>
<path fill="#974d91" d="M260 1085h22v22h-22z"/>
<path fill="#9d5293" d="M391 1085h21v22h-21zM412 1107h22v21h-22z"/>
<path fill="#90498e" d="M391 1107h21v21h-21z"/>
<g fill="#0a0a1e" shape-rendering="geometricPrecision">
<circle cx="423.4" cy="200.1" r="1.45"/>
<circle cx="445.5" cy="202.4" r="1.45"/>
<circle cx="466.5" cy="202.4" r="1.45"/>
<circle cx="475.4" cy="206.3" r="1.45"/>
<circle cx="409.3" cy="206.3" r="1.45"/>
<circle cx="401.3" cy="213.1" r="1.45"/>
<circle cx="488.4" cy="217.2" r="1.45"/>
<circle cx="387.2" cy="228.4" r="1.45"/>
<circle cx="497.5" cy="228.4" r="1.45"/>
<circle cx="380.2" cy="234.4" r="1.45"/>
<circle cx="368.3" cy="250.2" r="1.45"/>
<circle cx="510.2" cy="250.2" r="1.45"/>
<circle cx="380.2" cy="267.4" r="1.45"/>
<circle cx="390.4" cy="271.3" r="1.45"/>
<circle cx="401.3" cy="274.2" r="1.45"/>
<circle cx="423.4" cy="279.1" r="1.45"/>
<circle cx="521.4" cy="271.3" r="1.45"/>
<circle cx="532.3" cy="279.1" r="1.45"/>
<circle cx="574.4" cy="270.3" r="1.45"/>
<circle cx="438.5" cy="293.1" r="1.45"/>
<circle cx="553.4" cy="293.1" r="1.45"/>
<circle cx="445.5" cy="309.2" r="1.45"/>
<circle cx="445.5" cy="309.3" r="1.45"/>
<circle cx="447.6" cy="315.3" r="1.45"/>
<circle cx="457.4" cy="336.1" r="1.45"/>
<circle cx="445.5" cy="344.2" r="1.45"/>
<circle cx="423.4" cy="356.4" r="1.45"/>
<circle cx="418.4" cy="358.2" r="1.45"/>
<circle cx="401.3" cy="375.4" r="1.45"/>
<circle cx="398.4" cy="380.3" r="1.45"/>
<circle cx="358.4" cy="393.1" r="1.45"/>
<circle cx="380.2" cy="393.1" r="1.45"/>
<circle cx="336.3" cy="399.3" r="1.45"/>
<circle cx="334.2" cy="400.8" r="1.45"/>
<circle cx="319.4" cy="423.2" r="1.45"/>
<circle cx="319.4" cy="445.3" r="1.45"/>
<circle cx="324.3" cy="466.1" r="1.45"/>
<circle cx="229.4" cy="597.1" r="1.45"/>
<circle cx="231.5" cy="617.1" r="1.45"/>
<circle cx="243.5" cy="640.1" r="1.45"/>
<circle cx="250.2" cy="645.3" r="1.45"/>
<circle cx="267.4" cy="640.1" r="1.45"/>
<circle cx="271.3" cy="639.1" r="1.45"/>
<circle cx="293.1" cy="638.3" r="1.45"/>
<circle cx="295.2" cy="640.1" r="1.45"/>
<circle cx="312.4" cy="662.2" r="1.45"/>
<circle cx="315.2" cy="664.3" r="1.45"/>
<circle cx="330.3" cy="683.3" r="1.45"/>
<circle cx="336.3" cy="690.3" r="1.45"/>
<circle cx="358.4" cy="702.2" r="1.45"/>
<circle cx="364.4" cy="705.1" r="1.45"/>
<circle cx="380.2" cy="712.4" r="1.45"/>
<circle cx="395.3" cy="727.2" r="1.45"/>
<circle cx="401.3" cy="736.3" r="1.45"/>
<circle cx="423.4" cy="749.3" r="1.45"/>
<circle cx="445.5" cy="753.2" r="1.45"/>
<circle cx="466.5" cy="758.4" r="1.45"/>
<circle cx="479.3" cy="770.1" r="1.45"/>
<circle cx="481.4" cy="792.2" r="1.45"/>
<circle cx="482.4" cy="814.3" r="1.45"/>
<circle cx="476.4" cy="835.1" r="1.45"/>
<circle cx="471.5" cy="857.2" r="1.45"/>
<circle cx="466.5" cy="861.1" r="1.45"/>
<circle cx="445.5" cy="860.3" r="1.45"/>
<circle cx="423.4" cy="859.3" r="1.45"/>
<circle cx="401.3" cy="858.2" r="1.45"/>
<circle cx="393.2" cy="857.2" r="1.45"/>
<circle cx="380.2" cy="850.2" r="1.45"/>
<circle cx="369.3" cy="835.1" r="1.45"/>
<circle cx="358.4" cy="824.2" r="1.45"/>
<circle cx="346.4" cy="814.3" r="1.45"/>
<circle cx="336.3" cy="806.2" r="1.45"/>
<circle cx="315.2" cy="800.3" r="1.45"/>
<circle cx="293.1" cy="799.2" r="1.45"/>
<circle cx="271.3" cy="805.2" r="1.45"/>
<circle cx="250.2" cy="811.2" r="1.45"/>
<circle cx="246.3" cy="814.3" r="1.45"/>
<circle cx="233.3" cy="835.1" r="1.45"/>
<circle cx="228.4" cy="857.2" r="1.45"/>
<circle cx="231.5" cy="879.3" r="1.45"/>
<circle cx="246.3" cy="900.4" r="1.45"/>
<circle cx="234.4" cy="921.1" r="1.45"/>
<circle cx="228.4" cy="943.1" r="1.45"/>
<circle cx="227.4" cy="945.2" r="1.45"/>
<circle cx="238.3" cy="965.2" r="1.45"/>
<circle cx="250.2" cy="984.4" r="1.45"/>
<circle cx="251.3" cy="987.3" r="1.45"/>
<circle cx="250.2" cy="990.4" r="1.45"/>
<circle cx="240.4" cy="1009.1" r="1.45"/>
<circle cx="232.3" cy="1031.2" r="1.45"/>
<circle cx="233.3" cy="1052.3" r="1.45"/>
<circle cx="234.4" cy="1074.1" r="1.45"/>
<circle cx="246.3" cy="1096.2" r="1.45"/>
<circle cx="250.2" cy="1100.4" r="1.45"/>
<circle cx="271.3" cy="1114.1" r="1.45"/>
<circle cx="277.3" cy="1117.3" r="1.45"/>
<circle cx="283.3" cy="1139.1" r="1.45"/>
<circle cx="293.1" cy="1151.1" r="1.45"/>
<circle cx="298.3" cy="1161.2" r="1.45"/>
<circle cx="309.2" cy="1182.3" r="1.45"/>
<circle cx="315.2" cy="1189.3" r="1.45"/>
<circle cx="331.3" cy="1204.4" r="1.45"/>
<circle cx="575.3" cy="270.8" r="1.45"/>
</g>
</svg>
<svg class="p" style="left:1730px;top:53px" width="586" height="1215" viewBox="0 0 586 1215" shape-rendering="crispEdges">
<path fill="#68189c" d="M0 0h22v22h-22z"/>
<path fill="#6c1c9c" d="M22 0h43v22h-43zM412 0h22v22h-22zM87 22h43v21h-43zM412 22h22v21h-22zM391 43h65v22h-65zM391 65h65v22h-65zM152 152h22v22h-22zM217 152h22v22h-22zM0 174h22v21h-22zM0 195h22v22h-22zM174 239h21v21h-21zM22 391h65v21h-65zM22 412h152v22h-152zM22 434h130v22h-130zM0 673h174v21h-174zM22 694h21v22h-21zM109 694h21v22h-21zM22 716h21v22h-21zM109 716h21v22h-21zM109 738h21v21h-21zM65 1020h22v21h-22zM43 1041h44v22h-44zM87 1128h22v22h-22zM22 1172h43v21h-43z"/>
<path fill="#701c9c" d="M65 0h22v22h-22zM260 0h22v22h-22zM434 0h43v22h-43zM22 22h65v21h-65zM130 22h44v21h-44zM434 22h43v21h-43zM22 43h21v22h-21zM130 43h22v22h-22zM174 43h21v22h-21zM22 65h21v22h-21zM217 65h22v22h-22zM22 87h21v21h-21zM217 87h22v21h-22zM412 87h44v21h-44zM22 108h65v22h-65zM152 108h22v22h-22zM22 130h65v22h-65zM217 130h22v22h-22zM22 152h65v22h-65zM174 152h21v22h-21zM260 152h22v22h-22zM22 174h65v21h-65zM22 195h108v22h-108zM109 217h21v22h-21zM260 239h22v21h-22zM109 260h43v22h-43zM195 260h22v22h-22zM260 260h22v22h-22zM109 282h21v22h-21zM109 304h21v21h-21zM109 325h21v22h-21zM174 347h21v22h-21zM217 347h22v22h-22zM22 369h65v22h-65zM43 564h22v22h-22zM87 564h43v22h-43zM43 608h22v21h-22zM130 629h22v22h-22zM109 651h21v22h-21zM43 694h22v22h-22zM87 694h22v22h-22zM65 738h44v21h-44zM87 781h22v22h-22zM65 824h22v22h-22zM0 846h22v22h-22zM43 846h22v22h-22zM43 868h22v22h-22zM65 976h22v22h-22zM43 998h44v22h-44zM43 1020h22v21h-22zM65 1063h22v22h-22zM65 1107h65v21h-65zM65 1128h22v22h-22zM174 1172h21v21h-21z"/>
<path fill="#74209c" d="M87 0h22v22h-22zM239 0h21v22h-21zM152 43h22v22h-22zM130 65h22v22h-22zM304 87h22v21h-22zM412 108h44v22h-44zM260 174h22v21h-22zM260 217h22v22h-22zM109 239h21v21h-21zM152 260h43v22h-43zM130 282h22v22h-22zM174 282h21v22h-21zM130 304h22v21h-22zM174 304h21v21h-21zM130 347h22v22h-22zM174 369h21v22h-21zM152 391h22v21h-22zM195 391h22v21h-22zM0 521h22v21h-22zM0 542h22v22h-22zM0 564h22v22h-22zM130 564h22v22h-22zM22 608h21v21h-21zM87 608h22v21h-22zM130 608h22v21h-22zM109 629h21v22h-21zM174 673h21v21h-21zM65 694h22v22h-22zM174 694h21v22h-21zM43 716h22v22h-22zM87 716h22v22h-22zM174 716h21v22h-21zM130 738h22v21h-22zM130 759h22v22h-22zM65 781h22v22h-22zM87 803h22v21h-22zM174 846h21v22h-21zM22 868h21v22h-21zM174 868h21v22h-21zM130 976h22v22h-22zM152 998h22v22h-22zM22 1020h21v21h-21zM87 1063h43v22h-43zM87 1085h43v22h-43zM43 1150h44v22h-44zM174 1150h21v22h-21z"/>
<path fill="#78249c" d="M109 0h65v22h-65zM195 65h22v22h-22zM152 87h43v21h-43zM391 87h21v21h-21zM174 108h21v22h-21zM174 130h43v22h-43zM260 282h22v22h-22zM239 304h21v21h-21zM130 325h22v22h-22zM239 369h21v22h-21zM174 391h21v21h-21zM217 391h22v21h-22zM152 564h22v22h-22zM109 608h21v21h-21zM195 694h22v22h-22zM65 716h22v22h-22zM195 716h44v22h-44zM152 738h22v21h-22zM239 738h65v21h-65zM65 803h22v21h-22zM130 824h22v22h-22zM152 933h22v22h-22zM174 1128h21v22h-21zM217 1193h22v22h-22z"/>
<path fill="#68149c" d="M174 0h21v22h-21zM217 0h22v22h-22zM43 43h22v22h-22zM87 43h22v22h-22zM260 43h22v22h-22zM304 43h22v22h-22zM239 65h21v22h-21zM65 87h22v21h-22zM282 108h22v22h-22zM87 130h22v22h-22zM130 152h22v22h-22zM109 174h86v21h-86zM217 174h22v21h-22zM130 195h22v22h-22zM0 217h87v22h-87zM152 217h43v22h-43zM87 239h22v21h-22zM217 239h22v21h-22zM0 260h43v22h-43zM87 260h22v22h-22zM87 282h22v22h-22zM22 304h21v21h-21zM0 325h22v22h-22zM0 347h22v22h-22zM109 347h21v22h-21zM87 369h22v22h-22zM195 369h22v22h-22zM87 391h22v21h-22zM0 412h22v22h-22zM0 434h22v22h-22zM109 521h21v21h-21zM109 542h21v22h-21zM87 629h22v22h-22zM43 651h22v22h-22zM87 651h22v22h-22zM0 738h43v21h-43zM0 759h22v22h-22zM43 759h22v22h-22zM0 781h22v22h-22zM43 781h22v22h-22zM0 803h22v21h-22zM22 824h21v22h-21zM65 846h87v22h-87zM130 868h44v22h-44zM43 890h87v21h-87zM22 911h65v22h-65zM22 933h21v22h-21zM0 955h43v21h-43zM87 976h22v22h-22zM0 998h22v22h-22zM87 998h22v22h-22zM87 1020h22v21h-22zM109 1041h43v22h-43zM0 1063h22v22h-22zM152 1063h22v22h-22zM43 1085h22v22h-22zM130 1107h22v21h-22zM43 1128h22v22h-22zM0 1150h22v22h-22zM87 1172h22v21h-22zM22 1193h43v22h-43zM87 1193h65v22h-65z"/>
<path fill="#5c0c98" d="M195 0h22v22h-22zM239 87h43v21h-43zM65 521h22v21h-22zM87 933h22v22h-22zM109 955h21v21h-21zM22 1085h21v22h-21z"/>
<path fill="#6c189c" d="M282 0h65v22h-65zM391 0h21v22h-21zM0 22h22v21h-22zM239 22h173v21h-173zM0 43h22v22h-22zM109 43h21v22h-21zM195 43h65v22h-65zM326 43h65v22h-65zM456 43h21v22h-21zM0 65h22v22h-22zM109 65h21v22h-21zM326 65h65v22h-65zM0 87h22v21h-22zM43 87h22v21h-22zM130 87h22v21h-22zM456 87h21v21h-21zM0 108h22v22h-22zM217 108h22v22h-22zM0 130h22v22h-22zM152 130h22v22h-22zM282 130h22v22h-22zM0 152h22v22h-22zM87 152h22v22h-22zM87 174h22v21h-22zM239 174h21v21h-21zM87 217h22v22h-22zM130 217h22v22h-22zM195 217h22v22h-22zM130 239h44v21h-44zM195 239h22v21h-22zM217 260h22v22h-22zM0 282h22v22h-22zM43 282h22v22h-22zM195 282h65v22h-65zM0 304h22v21h-22zM217 304h22v21h-22zM174 325h21v22h-21zM217 325h22v22h-22zM0 369h22v22h-22zM130 369h22v22h-22zM217 369h22v22h-22zM0 391h22v21h-22zM130 391h22v21h-22zM43 521h22v21h-22zM130 521h22v21h-22zM43 542h22v22h-22zM130 542h22v22h-22zM65 564h22v22h-22zM0 586h22v22h-22zM0 608h22v21h-22zM65 608h22v21h-22zM0 629h43v22h-43zM0 651h43v22h-43zM130 651h22v22h-22zM0 694h22v22h-22zM130 694h44v22h-44zM0 716h22v22h-22zM130 716h44v22h-44zM43 738h22v21h-22zM65 759h65v22h-65zM109 781h21v22h-21zM43 803h22v21h-22zM0 824h22v22h-22zM43 824h22v22h-22zM87 824h43v22h-43zM152 846h22v22h-22zM0 868h22v22h-22zM65 868h65v22h-65zM0 890h43v21h-43zM0 911h22v22h-22zM152 911h22v22h-22zM0 933h22v22h-22zM43 955h44v21h-44zM130 955h22v21h-22zM43 976h22v22h-22zM22 998h21v22h-21zM130 998h22v22h-22zM0 1020h22v21h-22zM0 1041h43v22h-43zM87 1041h22v22h-22zM43 1063h22v22h-22zM130 1063h22v22h-22zM65 1085h22v22h-22zM130 1085h22v22h-22zM109 1128h21v22h-21zM87 1150h22v22h-22zM0 1172h22v21h-22zM65 1172h22v21h-22zM0 1193h22v22h-22zM152 1193h43v22h-43z"/>
<path fill="#64149c" d="M347 0h22v22h-22zM65 43h22v22h-22zM43 65h22v22h-22zM87 65h22v22h-22zM87 108h22v22h-22zM260 130h22v22h-22zM43 933h44v22h-44z"/>
<path fill="#64109c" d="M369 0h22v22h-22zM174 22h21v21h-21zM217 22h22v21h-22zM282 43h22v22h-22zM260 65h22v22h-22zM304 65h22v22h-22zM87 87h22v21h-22zM282 87h22v21h-22zM195 174h22v21h-22zM217 217h22v22h-22zM0 239h22v21h-22zM43 260h22v22h-22zM239 260h21v22h-21zM65 282h22v22h-22zM43 304h22v21h-22zM87 304h22v21h-22zM22 347h21v22h-21zM87 347h22v22h-22zM109 391h21v21h-21zM87 521h22v21h-22zM87 542h22v22h-22zM43 629h22v22h-22zM65 651h22v22h-22zM130 890h22v21h-22zM87 911h22v22h-22zM130 911h22v22h-22zM130 933h22v22h-22zM87 955h22v21h-22zM22 976h21v22h-21zM109 976h21v22h-21zM109 998h21v22h-21zM109 1020h43v21h-43zM22 1063h21v22h-21zM0 1085h22v22h-22zM43 1107h22v21h-22zM0 1128h43v22h-43zM130 1128h22v22h-22zM109 1150h21v22h-21zM109 1172h21v21h-21zM65 1193h22v22h-22z"/>
<path fill="#7c289c" d="M477 0h22v22h-22zM477 22h22v21h-22zM152 65h43v22h-43zM195 87h22v21h-22zM369 87h22v21h-22zM304 152h22v22h-22zM260 195h22v22h-22zM152 282h22v22h-22zM152 304h22v21h-22zM152 325h22v22h-22zM152 347h22v22h-22zM239 391h21v21h-21zM174 412h21v22h-21zM22 521h21v21h-21zM22 542h21v22h-21zM22 564h21v22h-21zM22 586h43v22h-43zM87 586h65v22h-65zM174 738h65v21h-65zM152 759h22v22h-22zM152 955h22v21h-22zM174 1085h21v22h-21zM174 1107h21v21h-21zM195 1172h22v21h-22z"/>
<path fill="#88309c" d="M499 0h22v22h-22zM391 130h21v22h-21z"/>
<path fill="#98409c" d="M521 0h22v22h-22zM347 347h22v22h-22zM260 1193h22v22h-22z"/>
<path fill="#a8509c" d="M543 0h21v22h-21zM217 651h22v22h-22zM282 651h22v22h-22z"/>
<path fill="#b7639c" d="M564 0h22v22h-22zM217 868h22v22h-22z"/>
<path fill="#5d0998" d="M195 22h22v21h-22zM282 65h22v22h-22z"/>
<path fill="#84309c" d="M499 22h22v21h-22zM326 87h21v21h-21zM391 108h21v22h-21zM304 130h22v22h-22zM282 174h22v21h-22zM282 282h22v22h-22zM239 347h21v22h-21zM195 412h22v22h-22zM217 694h22v22h-22zM260 694h22v22h-22zM152 976h22v22h-22z"/>
<path fill="#8d399c" d="M521 22h22v21h-22zM543 130h21v22h-21zM369 347h22v22h-22zM347 759h22v22h-22zM434 803h22v21h-22z"/>
<path fill="#913d9c" d="M543 22h21v21h-21zM412 325h22v22h-22zM347 716h22v22h-22zM391 759h21v22h-21zM391 803h21v21h-21zM456 803h21v21h-21z"/>
<path fill="#ac589c" d="M564 22h22v21h-22zM564 108h22v22h-22zM369 195h22v22h-22zM347 217h22v22h-22zM499 217h22v22h-22zM521 260h22v22h-22zM391 282h21v22h-21zM326 369h21v22h-21zM304 391h22v21h-22zM239 651h21v22h-21zM391 738h21v21h-21zM456 759h21v22h-21zM239 1107h21v21h-21zM260 1150h22v22h-22zM282 1172h22v21h-22z"/>
<path fill="#802c9c" d="M477 43h22v22h-22zM412 130h87v22h-87zM282 239h22v21h-22zM260 304h22v21h-22zM174 759h86v22h-86zM130 781h22v22h-22zM174 890h21v21h-21z"/>
<path fill="#94409c" d="M499 43h22v22h-22zM521 108h22v22h-22zM521 195h22v22h-22zM521 217h22v22h-22zM304 282h22v22h-22zM369 304h22v21h-22zM239 434h21v22h-21zM195 456h44v21h-44zM217 477h22v22h-22zM174 781h43v22h-43zM217 1150h22v22h-22z"/>
<path fill="#ac579c" d="M521 43h22v22h-22zM326 694h21v22h-21zM282 781h44v22h-44z"/>
<path fill="#bb6698" d="M543 43h21v22h-21z"/>
<path fill="#bc5c8c" d="M564 43h22v22h-22zM564 87h22v21h-22z"/>
<path fill="#5d0c98" d="M65 65h22v22h-22zM152 195h22v22h-22zM65 542h22v22h-22zM65 629h22v22h-22zM22 759h21v22h-21z"/>
<path fill="#6c199c" d="M456 65h21v22h-21z"/>
<path fill="#88349c" d="M477 65h22v22h-22zM369 108h22v22h-22zM499 108h22v22h-22zM369 130h22v22h-22zM499 130h22v22h-22zM391 152h65v22h-65zM477 152h66v22h-66zM282 217h22v22h-22zM282 304h22v21h-22zM260 325h22v22h-22zM217 412h22v22h-22zM174 434h21v22h-21zM130 803h22v21h-22zM152 824h43v22h-43zM174 998h21v22h-21zM195 1128h22v22h-22zM195 1150h22v22h-22zM217 1172h22v21h-22zM239 1193h21v22h-21z"/>
<path fill="#9c489c" d="M499 65h22v22h-22zM304 195h22v22h-22zM304 217h22v22h-22zM304 239h22v21h-22zM521 239h22v21h-22zM391 304h21v21h-21zM326 347h21v22h-21zM260 434h22v22h-22zM260 456h44v21h-44zM217 781h22v22h-22zM456 781h21v22h-21zM217 1107h22v21h-22zM260 1172h22v21h-22z"/>
<path fill="#bb6794" d="M521 65h22v22h-22z"/>
<path fill="#bc4d7d" d="M543 65h21v22h-21z"/>
<path fill="#c04571" d="M564 65h22v22h-22z"/>
<path fill="#60109c" d="M109 87h21v21h-21zM130 108h22v22h-22zM130 130h22v22h-22zM239 130h21v22h-21zM109 152h21v22h-21zM174 195h43v22h-43zM22 239h65v21h-65zM65 260h22v22h-22zM22 325h21v22h-21zM87 325h22v22h-22zM43 347h44v22h-44zM109 911h21v22h-21zM0 976h22v22h-22zM0 1107h22v21h-22zM130 1150h22v22h-22zM130 1172h44v21h-44z"/>
<path fill="#80309c" d="M347 87h22v21h-22zM304 738h22v21h-22zM174 1020h21v21h-21z"/>
<path fill="#842c9c" d="M477 87h22v21h-22z"/>
<path fill="#90409c" d="M499 87h22v21h-22zM326 174h21v21h-21z"/>
<path fill="#a8549c" d="M521 87h22v21h-22zM412 174h65v21h-65zM347 195h22v22h-22zM499 195h22v22h-22zM347 282h44v22h-44zM304 369h22v22h-22zM282 412h22v22h-22zM282 434h22v22h-22zM304 477h22v22h-22zM195 608h22v21h-22zM260 651h22v22h-22zM326 781h21v22h-21zM217 803h22v21h-22zM391 824h21v22h-21zM217 998h22v22h-22zM217 1085h22v22h-22zM239 1128h21v22h-21zM282 1193h22v22h-22z"/>
<path fill="#bb6798" d="M543 87h21v21h-21z"/>
<path fill="#510198" d="M109 108h21v22h-21z"/>
<path fill="#7f2f9c" d="M195 108h22v22h-22z"/>
<path fill="#4d0198" d="M239 108h21v22h-21zM65 325h22v22h-22z"/>
<path fill="#580898" d="M260 108h22v22h-22zM109 130h21v22h-21zM65 304h22v21h-22zM43 325h22v22h-22z"/>
<path fill="#87339c" d="M304 108h22v22h-22zM239 325h21v22h-21z"/>
<path fill="#97439c" d="M326 108h21v22h-21zM174 629h21v22h-21z"/>
<path fill="#933f9c" d="M347 108h22v22h-22zM282 195h22v22h-22z"/>
<path fill="#6d199c" d="M456 108h21v22h-21zM282 152h22v22h-22zM152 629h22v22h-22zM152 651h22v22h-22zM239 716h65v22h-65zM109 803h21v21h-21z"/>
<path fill="#7c249c" d="M477 108h22v22h-22z"/>
<path fill="#a0489c" d="M543 108h21v22h-21z"/>
<path fill="#8c389c" d="M326 130h43v22h-43zM521 130h22v22h-22zM456 152h21v22h-21zM304 174h22v21h-22zM521 174h22v21h-22zM282 325h65v22h-65zM260 347h22v22h-22zM260 369h22v22h-22zM239 412h21v22h-21zM195 434h22v22h-22zM217 673h22v21h-22zM326 738h21v21h-21zM326 759h21v22h-21zM412 781h22v22h-22zM174 976h21v22h-21zM195 998h22v22h-22zM195 1020h22v21h-22zM195 1085h22v22h-22zM195 1107h22v21h-22z"/>
<path fill="#a4509c" d="M564 130h22v22h-22zM391 174h21v21h-21zM326 239h21v21h-21zM564 239h22v21h-22zM326 260h21v22h-21zM412 304h22v21h-22zM347 369h22v22h-22zM282 391h22v21h-22zM304 673h22v21h-22zM456 824h21v22h-21zM195 911h22v22h-22zM195 933h22v22h-22z"/>
<path fill="#65149c" d="M195 152h22v22h-22zM152 1041h22v22h-22z"/>
<path fill="#73209c" d="M239 152h21v22h-21z"/>
<path fill="#80299c" d="M326 152h21v22h-21z"/>
<path fill="#812d9c" d="M347 152h22v22h-22zM543 174h21v21h-21zM543 195h21v22h-21zM260 759h44v22h-44z"/>
<path fill="#85319c" d="M369 152h22v22h-22zM543 217h21v22h-21zM347 325h22v22h-22zM391 325h21v22h-21zM304 759h22v22h-22zM195 1063h22v22h-22z"/>
<path fill="#88319c" d="M543 152h21v22h-21z"/>
<path fill="#9f4b9c" d="M564 152h22v22h-22zM564 217h22v22h-22zM152 803h43v21h-43z"/>
<path fill="#98449c" d="M347 174h22v21h-22zM499 174h22v21h-22zM564 195h22v22h-22zM326 304h43v21h-43zM282 347h44v22h-44zM260 412h22v22h-22zM174 456h21v21h-21zM239 456h21v21h-21zM174 477h21v22h-21zM239 477h43v22h-43zM239 673h21v21h-21zM347 738h22v21h-22zM369 781h22v22h-22zM434 781h22v22h-22zM217 1128h22v22h-22z"/>
<path fill="#a04c9c" d="M369 174h22v21h-22zM477 174h22v21h-22zM326 195h21v22h-21zM326 217h21v22h-21zM326 282h21v22h-21zM195 564h22v22h-22zM195 586h22v22h-22zM369 738h22v21h-22zM434 759h22v22h-22zM239 781h21v22h-21zM347 781h22v22h-22zM195 803h22v21h-22zM369 803h22v21h-22zM412 824h44v22h-44zM195 890h22v21h-22zM217 976h22v22h-22zM239 1150h21v22h-21z"/>
<path fill="#9b479c" d="M564 174h22v21h-22zM304 260h22v22h-22zM304 694h22v22h-22z"/>
<path fill="#5c0c9c" d="M217 195h22v22h-22z"/>
<path fill="#5d0d9c" d="M239 195h21v22h-21z"/>
<path fill="#b05c9c" d="M391 195h21v22h-21zM347 239h22v21h-22zM412 282h22v22h-22z"/>
<path fill="#bc6498" d="M412 195h65v22h-65zM369 239h22v21h-22zM217 608h22v21h-22zM239 629h21v22h-21zM456 738h21v21h-21zM347 1193h22v22h-22z"/>
<path fill="#b4609c" d="M477 195h22v22h-22zM499 239h22v21h-22zM347 260h22v22h-22zM434 304h22v21h-22zM304 412h22v22h-22zM260 1128h22v22h-22zM304 1193h22v22h-22z"/>
<path fill="#5d0c9c" d="M239 217h21v22h-21zM239 239h21v21h-21z"/>
<path fill="#b8609c" d="M369 217h22v22h-22zM304 434h22v22h-22zM217 564h22v22h-22zM217 586h22v22h-22zM217 911h22v22h-22z"/>
<path fill="#bc6798" d="M391 217h21v22h-21zM477 217h22v22h-22zM369 260h22v22h-22zM412 260h22v22h-22zM434 846h43v22h-43z"/>
<path fill="#c06090" d="M412 217h44v22h-44zM499 282h22v22h-22zM521 304h43v21h-43zM326 456h21v21h-21zM239 608h21v21h-21zM282 803h22v21h-22zM304 1107h22v21h-22zM304 1128h22v22h-22zM326 1172h21v21h-21z"/>
<path fill="#c06494" d="M456 217h21v22h-21z"/>
<path fill="#c0608c" d="M391 239h21v21h-21zM477 239h22v21h-22zM326 434h21v22h-21z"/>
<path fill="#c05585" d="M412 239h22v21h-22z"/>
<path fill="#c05181" d="M434 239h22v21h-22z"/>
<path fill="#c05484" d="M456 239h21v21h-21zM456 260h21v22h-21zM434 347h22v22h-22zM260 564h22v22h-22zM260 586h22v22h-22zM282 608h22v21h-22zM499 694h44v22h-44zM347 1128h22v22h-22z"/>
<path fill="#89359c" d="M543 239h21v21h-21zM282 673h22v21h-22zM326 716h21v22h-21zM412 803h22v21h-22zM195 824h22v22h-22zM195 868h22v22h-22z"/>
<path fill="#7d299c" d="M282 260h22v22h-22zM369 325h22v22h-22zM195 673h22v21h-22zM282 694h22v22h-22zM304 716h22v22h-22zM195 846h22v22h-22z"/>
<path fill="#bc6898" d="M391 260h21v22h-21z"/>
<path fill="#c05c8c" d="M434 260h22v22h-22zM477 260h22v22h-22zM456 304h43v21h-43zM239 564h21v22h-21zM239 586h21v22h-21zM260 608h22v21h-22zM326 651h21v22h-21zM347 673h22v21h-22zM412 716h22v22h-22zM456 716h65v22h-65zM477 738h22v21h-22zM239 824h21v22h-21zM347 824h22v22h-22zM239 868h21v22h-21zM260 890h22v21h-22zM239 911h21v22h-21zM260 1085h22v22h-22zM326 1107h21v21h-21zM326 1150h21v22h-21zM347 1172h22v21h-22zM369 1193h22v22h-22z"/>
<path fill="#bc6494" d="M499 260h22v22h-22zM521 282h22v22h-22zM326 412h21v22h-21zM260 629h22v22h-22zM304 1150h22v22h-22z"/>
<path fill="#a14c9c" d="M543 260h21v22h-21zM369 716h22v22h-22z"/>
<path fill="#bb6398" d="M564 260h22v22h-22zM217 629h22v22h-22zM304 651h22v22h-22zM347 694h22v22h-22zM412 738h22v21h-22zM217 846h22v22h-22z"/>
<path fill="#731f9c" d="M22 282h21v22h-21zM22 1150h21v22h-21z"/>
<path fill="#bc6398" d="M434 282h22v22h-22zM347 391h22v21h-22zM326 477h21v22h-21zM326 673h21v21h-21zM434 738h22v21h-22zM477 759h22v22h-22zM260 803h22v21h-22zM326 803h21v21h-21zM477 824h22v22h-22zM239 1085h21v22h-21z"/>
<path fill="#c05485" d="M456 282h21v22h-21z"/>
<path fill="#c05888" d="M477 282h22v22h-22zM434 716h22v22h-22zM521 716h22v22h-22zM499 738h22v21h-22zM499 759h22v22h-22zM499 781h22v22h-22zM347 846h22v22h-22zM282 890h22v21h-22zM260 911h22v22h-22zM239 933h21v22h-21zM239 1041h21v22h-21zM239 1063h21v22h-21zM326 1128h21v22h-21zM347 1150h22v22h-22zM369 1172h22v21h-22z"/>
<path fill="#bf6090" d="M543 282h21v22h-21z"/>
<path fill="#c0507d" d="M564 282h22v22h-22zM347 412h22v22h-22z"/>
<path fill="#64119c" d="M195 304h22v21h-22z"/>
<path fill="#903c9c" d="M304 304h22v21h-22zM260 391h22v21h-22zM217 434h22v22h-22zM195 477h22v22h-22zM174 564h21v22h-21zM174 586h21v22h-21zM174 608h21v21h-21zM260 673h22v21h-22zM369 759h22v22h-22zM152 781h22v22h-22zM391 781h21v22h-21zM174 911h21v22h-21zM174 955h21v21h-21zM239 1172h21v21h-21z"/>
<path fill="#bc5c90" d="M499 304h22v21h-22z"/>
<path fill="#c04c7c" d="M564 304h22v21h-22zM564 325h22v22h-22zM391 391h21v21h-21zM347 434h22v22h-22zM347 456h22v21h-22zM282 564h22v22h-22zM521 673h22v21h-22zM412 694h44v22h-44zM521 738h22v21h-22zM304 824h22v22h-22zM326 846h21v22h-21zM499 846h22v22h-22zM282 868h22v22h-22zM412 868h22v22h-22zM326 890h21v21h-21zM260 955h22v21h-22zM282 1085h22v22h-22zM391 1172h21v21h-21z"/>
<path fill="#61109c" d="M195 325h22v22h-22zM195 347h22v22h-22z"/>
<path fill="#a9549c" d="M434 325h22v22h-22z"/>
<path fill="#bc6397" d="M456 325h21v22h-21zM369 846h22v22h-22zM239 955h21v21h-21z"/>
<path fill="#c05f8f" d="M477 325h22v22h-22z"/>
<path fill="#c05b8c" d="M499 325h22v22h-22zM477 846h22v22h-22z"/>
<path fill="#c05b8b" d="M521 325h22v22h-22z"/>
<path fill="#c05787" d="M543 325h21v22h-21zM347 1107h22v21h-22z"/>
<path fill="#a7539c" d="M391 347h21v22h-21z"/>
<path fill="#bb6397" d="M412 347h22v22h-22z"/>
<path fill="#c0487c" d="M456 347h21v22h-21z"/>
<path fill="#c04070" d="M477 347h22v22h-22zM434 369h22v22h-22zM304 586h22v22h-22zM434 673h22v21h-22zM564 673h22v21h-22zM564 716h22v22h-22zM543 738h21v21h-21zM521 781h22v22h-22zM477 868h22v22h-22zM369 890h22v21h-22zM260 1020h22v21h-22zM347 1085h22v22h-22zM456 1193h21v22h-21z"/>
<path fill="#c03c6c" d="M499 347h22v22h-22zM391 499h21v22h-21zM326 608h43v21h-43zM347 629h22v22h-22zM412 673h22v21h-22zM521 803h22v21h-22zM282 1063h22v22h-22zM434 1172h22v21h-22zM477 1193h22v22h-22z"/>
<path fill="#c03868" d="M521 347h22v22h-22zM412 391h22v21h-22zM369 477h22v22h-22zM412 499h22v22h-22zM326 564h21v22h-21zM391 651h21v22h-21zM521 824h22v22h-22zM391 890h21v21h-21zM369 1085h22v22h-22zM391 1128h21v22h-21zM412 1150h22v22h-22zM499 1193h22v22h-22z"/>
<path fill="#c03464" d="M543 347h21v22h-21zM456 369h21v22h-21zM369 456h22v21h-22zM434 499h22v22h-22zM347 564h22v22h-22zM326 586h21v22h-21zM391 608h21v21h-21zM369 629h22v22h-22zM412 651h109v22h-109zM564 651h22v22h-22zM521 846h22v22h-22zM499 868h22v22h-22zM282 1041h22v22h-22zM304 1063h43v22h-43zM391 1107h21v21h-21zM456 1172h21v21h-21zM521 1193h22v22h-22z"/>
<path fill="#c03060" d="M564 347h22v22h-22zM391 477h21v22h-21zM456 499h21v22h-21zM434 521h22v21h-22zM347 586h22v22h-22zM521 651h43v22h-43zM564 738h22v21h-22zM412 890h22v21h-22zM326 911h21v22h-21zM304 1041h22v22h-22zM434 1150h22v22h-22zM477 1172h22v21h-22zM543 1193h21v22h-21z"/>
<path fill="#5d0d98" d="M109 369h21v22h-21zM152 890h22v21h-22z"/>
<path fill="#7b279c" d="M152 369h22v22h-22zM65 586h22v22h-22z"/>
<path fill="#a34f9c" d="M282 369h22v22h-22z"/>
<path fill="#9d499c" d="M369 369h22v22h-22z"/>
<path fill="#b8639b" d="M391 369h21v22h-21zM391 716h21v22h-21z"/>
<path fill="#c05080" d="M412 369h22v22h-22zM347 477h22v22h-22zM304 629h22v22h-22zM347 651h22v22h-22zM369 673h22v21h-22zM391 694h21v22h-21zM456 694h43v22h-43zM543 694h21v22h-21zM543 716h21v22h-21zM260 824h22v22h-22zM326 824h21v22h-21zM260 868h22v22h-22zM304 868h108v22h-108zM304 890h22v21h-22zM369 1150h22v22h-22zM391 1193h21v22h-21z"/>
<path fill="#c02c5c" d="M477 369h22v22h-22zM434 391h22v21h-22zM391 456h21v21h-21zM412 477h22v22h-22zM412 608h22v21h-22zM564 608h22v21h-22zM391 629h21v22h-21zM434 890h22v21h-22zM347 911h22v22h-22zM282 976h22v22h-22zM282 998h22v22h-22zM282 1020h22v21h-22zM347 1063h22v22h-22zM499 1172h22v21h-22zM564 1193h22v22h-22z"/>
<path fill="#c02858" d="M499 369h22v22h-22zM434 608h22v21h-22zM499 608h65v21h-65zM412 629h44v22h-44zM477 629h87v22h-87zM543 781h21v22h-21zM521 868h22v22h-22zM456 890h21v21h-21zM369 911h22v22h-22zM304 955h22v21h-22zM304 1020h22v21h-22zM326 1041h21v22h-21zM391 1085h21v22h-21zM412 1128h22v22h-22zM456 1150h21v22h-21zM521 1172h43v21h-43z"/>
<path fill="#c02454" d="M521 369h22v22h-22zM456 391h21v21h-21zM412 412h22v22h-22zM412 434h22v22h-22zM412 456h22v21h-22zM434 477h22v22h-22zM499 499h22v22h-22zM477 608h22v21h-22zM456 629h21v22h-21zM477 890h22v21h-22zM391 911h21v22h-21zM369 1063h22v22h-22zM477 1150h22v22h-22zM564 1172h22v21h-22z"/>
<path fill="#c02050" d="M543 369h21v22h-21zM456 608h21v21h-21zM564 759h22v22h-22zM499 890h22v21h-22zM412 911h44v22h-44zM304 976h22v22h-22zM304 998h22v22h-22zM326 1020h21v21h-21zM347 1041h22v22h-22zM412 1107h22v21h-22zM434 1128h22v22h-22zM499 1150h22v22h-22z"/>
<path fill="#c0204c" d="M564 369h22v22h-22zM564 1150h22v22h-22z"/>
<path fill="#b8649c" d="M326 391h21v21h-21zM260 1107h22v21h-22zM282 1150h22v22h-22zM304 1172h22v21h-22z"/>
<path fill="#bc5f93" d="M369 391h22v21h-22z"/>
<path fill="#c01c4c" d="M477 391h22v21h-22zM434 412h22v22h-22zM434 434h22v22h-22zM434 456h22v21h-22zM456 477h21v22h-21zM564 781h22v22h-22zM543 824h21v22h-21zM543 846h21v22h-21zM521 890h22v21h-22zM456 911h21v22h-21zM369 1041h22v22h-22zM456 1128h21v22h-21zM521 1150h43v22h-43z"/>
<path fill="#c01848" d="M499 391h22v21h-22zM543 391h21v21h-21zM543 499h21v22h-21zM543 868h21v22h-21zM477 911h44v22h-44zM347 933h44v22h-44zM326 955h21v21h-21zM347 1020h22v21h-22zM391 1063h21v22h-21zM412 1085h22v22h-22zM477 1128h22v22h-22z"/>
<path fill="#c01444" d="M521 391h22v21h-22zM456 412h21v22h-21zM456 456h21v21h-21zM477 477h22v22h-22zM543 890h21v21h-21zM521 911h22v22h-22zM391 933h43v22h-43zM347 955h22v21h-22zM326 998h21v22h-21zM369 1020h22v21h-22zM434 1107h22v21h-22zM499 1128h22v22h-22zM564 1128h22v22h-22z"/>
<path fill="#c01c48" d="M564 391h22v21h-22z"/>
<path fill="#c0406d" d="M369 412h22v22h-22zM260 998h22v22h-22z"/>
<path fill="#c03160" d="M391 412h21v22h-21z"/>
<path fill="#c00c3c" d="M477 412h22v22h-22zM564 412h22v22h-22zM477 456h22v21h-22zM521 477h65v22h-65zM564 824h22v22h-22zM564 846h22v22h-22zM564 868h22v22h-22zM564 890h22v21h-22zM564 911h22v22h-22zM434 933h87v22h-87zM543 933h43v22h-43zM369 955h43v21h-43zM347 998h22v22h-22zM391 1020h21v21h-21zM412 1063h22v22h-22zM456 1107h21v21h-21zM564 1107h22v21h-22z"/>
<path fill="#bc0434" d="M499 412h44v22h-44zM499 434h65v22h-65zM499 456h65v21h-65zM369 976h22v22h-22zM412 976h22v22h-22zM391 998h21v22h-21zM434 998h22v22h-22zM434 1020h22v21h-22zM434 1041h43v22h-43zM456 1063h43v22h-43z"/>
<path fill="#c00838" d="M543 412h21v22h-21zM477 434h22v22h-22zM564 434h22v22h-22zM564 456h22v21h-22zM521 933h22v22h-22zM412 955h87v21h-87zM521 955h65v21h-65zM347 976h22v22h-22zM456 976h130v22h-130zM369 998h22v22h-22zM456 998h130v22h-130zM456 1020h130v21h-130zM412 1041h22v22h-22zM477 1041h109v22h-109zM434 1063h22v22h-22zM499 1063h87v22h-87zM456 1085h130v22h-130zM477 1107h87v21h-87z"/>
<path fill="#6d1c9c" d="M152 434h22v22h-22z"/>
<path fill="#c03c68" d="M369 434h22v22h-22zM369 608h22v21h-22z"/>
<path fill="#c0305c" d="M391 434h21v22h-21z"/>
<path fill="#c01040" d="M456 434h21v22h-21zM499 477h22v22h-22zM564 499h22v22h-22zM564 803h22v21h-22zM543 911h21v22h-21zM391 1041h21v22h-21zM434 1085h22v22h-22zM521 1128h43v22h-43z"/>
<path fill="#bc6699" d="M0 456h174v21h-174zM0 477h174v22h-174zM0 499h391v22h-391zM152 521h239v21h-239zM152 542h434v22h-434zM369 564h217v22h-217zM369 586h217v22h-217z"/>
<path fill="#b45c9c" d="M304 456h22v21h-22z"/>
<path fill="#95419c" d="M282 477h22v22h-22zM412 759h22v22h-22z"/>
<path fill="#c02b5b" d="M477 499h22v22h-22z"/>
<path fill="#c01f4f" d="M521 499h22v22h-22z"/>
<path fill="#c23e6e" d="M391 521h21v21h-21z"/>
<path fill="#c23c6c" d="M412 521h22v21h-22z"/>
<path fill="#c02d5d" d="M456 521h21v21h-21zM543 759h21v22h-21z"/>
<path fill="#be2353" d="M477 521h22v21h-22z"/>
<path fill="#be1f4f" d="M499 521h22v21h-22z"/>
<path fill="#be1444" d="M521 521h22v21h-22z"/>
<path fill="#be1040" d="M543 521h21v21h-21z"/>
<path fill="#be0939" d="M564 521h22v21h-22z"/>
<path fill="#c04474" d="M304 564h22v22h-22zM326 629h21v22h-21zM369 651h22v22h-22zM391 673h21v21h-21zM456 673h43v21h-43zM564 694h22v22h-22zM260 846h22v22h-22zM304 846h22v22h-22zM260 1041h22v22h-22zM326 1085h21v22h-21zM391 1150h21v22h-21zM412 1172h22v21h-22zM434 1193h22v22h-22z"/>
<path fill="#75219c" d="M152 586h22v22h-22z"/>
<path fill="#c04878" d="M282 586h22v22h-22zM304 608h22v21h-22zM499 673h22v21h-22zM521 759h22v22h-22zM282 824h22v22h-22zM434 868h43v22h-43zM347 890h22v21h-22zM260 976h22v22h-22zM260 1063h22v22h-22zM304 1085h22v22h-22zM369 1128h22v22h-22zM412 1193h22v22h-22z"/>
<path fill="#711d9c" d="M152 608h22v21h-22z"/>
<path fill="#af5b9c" d="M195 629h22v22h-22zM217 1063h22v22h-22z"/>
<path fill="#c05f90" d="M282 629h22v22h-22z"/>
<path fill="#c02c58" d="M564 629h22v22h-22z"/>
<path fill="#8f3b9c" d="M174 651h21v22h-21z"/>
<path fill="#a04b9c" d="M195 651h22v22h-22z"/>
<path fill="#c04b7b" d="M543 673h21v21h-21zM369 1107h22v21h-22z"/>
<path fill="#8b379c" d="M239 694h21v22h-21z"/>
<path fill="#bf5b8c" d="M369 694h22v22h-22z"/>
<path fill="#590898" d="M22 781h21v22h-21zM109 933h21v22h-21z"/>
<path fill="#a8539c" d="M260 781h22v22h-22z"/>
<path fill="#b8639c" d="M477 781h22v22h-22zM477 803h22v21h-22zM369 824h22v22h-22z"/>
<path fill="#590998" d="M22 803h21v21h-21zM152 1107h22v21h-22zM152 1128h22v22h-22zM152 1150h22v22h-22z"/>
<path fill="#b85f9c" d="M239 803h21v21h-21z"/>
<path fill="#bc6394" d="M304 803h22v21h-22z"/>
<path fill="#b45f9c" d="M347 803h22v21h-22z"/>
<path fill="#c05488" d="M499 803h22v21h-22zM499 824h22v22h-22zM260 933h22v22h-22z"/>
<path fill="#c01d4d" d="M543 803h21v21h-21zM326 933h21v22h-21z"/>
<path fill="#b35f9c" d="M217 824h22v22h-22zM217 1041h22v22h-22z"/>
<path fill="#77239c" d="M22 846h21v22h-21z"/>
<path fill="#c04d7d" d="M239 846h21v22h-21z"/>
<path fill="#c03d6d" d="M282 846h22v22h-22z"/>
<path fill="#bc6799" d="M391 846h43v22h-43z"/>
<path fill="#bb6799" d="M217 890h22v21h-22z"/>
<path fill="#bc6497" d="M239 890h21v21h-21zM282 1107h22v21h-22z"/>
<path fill="#c05084" d="M282 911h22v22h-22z"/>
<path fill="#c43c69" d="M304 911h22v22h-22z"/>
<path fill="#943c9c" d="M174 933h21v22h-21z"/>
<path fill="#bb6094" d="M217 933h22v22h-22z"/>
<path fill="#c04f83" d="M282 933h22v22h-22z"/>
<path fill="#c43864" d="M304 933h22v22h-22z"/>
<path fill="#9c449c" d="M195 955h22v21h-22z"/>
<path fill="#b05b9c" d="M217 955h22v21h-22zM217 1020h22v21h-22z"/>
<path fill="#c43c68" d="M282 955h22v21h-22z"/>
<path fill="#c00434" d="M499 955h22v21h-22z"/>
<path fill="#89319c" d="M195 976h22v22h-22z"/>
<path fill="#bf5f8c" d="M239 976h21v22h-21z"/>
<path fill="#c00d3d" d="M326 976h21v22h-21z"/>
<path fill="#bc0030" d="M391 976h21v22h-21zM412 998h22v22h-22zM412 1020h22v21h-22z"/>
<path fill="#bc0838" d="M434 976h22v22h-22z"/>
<path fill="#c06390" d="M239 998h21v22h-21z"/>
<path fill="#68159c" d="M152 1020h22v21h-22z"/>
<path fill="#c0588c" d="M239 1020h21v21h-21z"/>
<path fill="#78289c" d="M174 1041h21v22h-21z"/>
<path fill="#88359c" d="M195 1041h22v22h-22z"/>
<path fill="#74249c" d="M174 1063h21v22h-21z"/>
<path fill="#61119c" d="M152 1085h22v22h-22z"/>
<path fill="#550598" d="M22 1107h21v21h-21z"/>
<path fill="#bc6899" d="M282 1128h22v22h-22zM326 1193h21v22h-21z"/>
<path fill="#69159c" d="M195 1193h22v22h-22z"/>
<g fill="#0a0a1e" shape-rendering="geometricPrecision">
<circle cx="423.4" cy="200.1" r="1.45"/>
<circle cx="445.5" cy="202.4" r="1.45"/>
<circle cx="466.5" cy="202.4" r="1.45"/>
<circle cx="475.4" cy="206.3" r="1.45"/>
<circle cx="409.3" cy="206.3" r="1.45"/>
<circle cx="401.3" cy="213.1" r="1.45"/>
<circle cx="488.4" cy="217.2" r="1.45"/>
<circle cx="387.2" cy="228.4" r="1.45"/>
<circle cx="497.5" cy="228.4" r="1.45"/>
<circle cx="380.2" cy="234.4" r="1.45"/>
<circle cx="368.3" cy="250.2" r="1.45"/>
<circle cx="510.2" cy="250.2" r="1.45"/>
<circle cx="380.2" cy="267.4" r="1.45"/>
<circle cx="390.4" cy="271.3" r="1.45"/>
<circle cx="401.3" cy="274.2" r="1.45"/>
<circle cx="423.4" cy="279.1" r="1.45"/>
<circle cx="521.4" cy="271.3" r="1.45"/>
<circle cx="532.3" cy="279.1" r="1.45"/>
<circle cx="574.4" cy="270.3" r="1.45"/>
<circle cx="438.5" cy="293.1" r="1.45"/>
<circle cx="553.4" cy="293.1" r="1.45"/>
<circle cx="445.5" cy="309.2" r="1.45"/>
<circle cx="445.5" cy="309.3" r="1.45"/>
<circle cx="447.6" cy="315.3" r="1.45"/>
<circle cx="457.4" cy="336.1" r="1.45"/>
<circle cx="445.5" cy="344.2" r="1.45"/>
<circle cx="423.4" cy="356.4" r="1.45"/>
<circle cx="418.4" cy="358.2" r="1.45"/>
<circle cx="401.3" cy="375.4" r="1.45"/>
<circle cx="398.4" cy="380.3" r="1.45"/>
<circle cx="358.4" cy="393.1" r="1.45"/>
<circle cx="380.2" cy="393.1" r="1.45"/>
<circle cx="336.3" cy="399.3" r="1.45"/>
<circle cx="334.2" cy="400.8" r="1.45"/>
<circle cx="319.4" cy="423.2" r="1.45"/>
<circle cx="319.4" cy="445.3" r="1.45"/>
<circle cx="324.3" cy="466.1" r="1.45"/>
<circle cx="229.4" cy="597.1" r="1.45"/>
<circle cx="231.5" cy="617.1" r="1.45"/>
<circle cx="243.5" cy="640.1" r="1.45"/>
<circle cx="250.2" cy="645.3" r="1.45"/>
<circle cx="267.4" cy="640.1" r="1.45"/>
<circle cx="271.3" cy="639.1" r="1.45"/>
<circle cx="293.1" cy="638.3" r="1.45"/>
<circle cx="295.2" cy="640.1" r="1.45"/>
<circle cx="312.4" cy="662.2" r="1.45"/>
<circle cx="315.2" cy="664.3" r="1.45"/>
<circle cx="330.3" cy="683.3" r="1.45"/>
<circle cx="336.3" cy="690.3" r="1.45"/>
<circle cx="358.4" cy="702.2" r="1.45"/>
<circle cx="364.4" cy="705.1" r="1.45"/>
<circle cx="380.2" cy="712.4" r="1.45"/>
<circle cx="395.3" cy="727.2" r="1.45"/>
<circle cx="401.3" cy="736.3" r="1.45"/>
<circle cx="423.4" cy="749.3" r="1.45"/>
<circle cx="445.5" cy="753.2" r="1.45"/>
<circle cx="466.5" cy="758.4" r="1.45"/>
<circle cx="479.3" cy="770.1" r="1.45"/>
<circle cx="481.4" cy="792.2" r="1.45"/>
<circle cx="482.4" cy="814.3" r="1.45"/>
<circle cx="476.4" cy="835.1" r="1.45"/>
<circle cx="471.5" cy="857.2" r="1.45"/>
<circle cx="466.5" cy="861.1" r="1.45"/>
<circle cx="445.5" cy="860.3" r="1.45"/>
<circle cx="423.4" cy="859.3" r="1.45"/>
<circle cx="401.3" cy="858.2" r="1.45"/>
<circle cx="393.2" cy="857.2" r="1.45"/>
<circle cx="380.2" cy="850.2" r="1.45"/>
<circle cx="369.3" cy="835.1" r="1.45"/>
<circle cx="358.4" cy="824.2" r="1.45"/>
<circle cx="346.4" cy="814.3" r="1.45"/>
<circle cx="336.3" cy="806.2" r="1.45"/>
<circle cx="315.2" cy="800.3" r="1.45"/>
<circle cx="293.1" cy="799.2" r="1.45"/>
<circle cx="271.3" cy="805.2" r="1.45"/>
<circle cx="250.2" cy="811.2" r="1.45"/>
<circle cx="246.3" cy="814.3" r="1.45"/>
<circle cx="233.3" cy="835.1" r="1.45"/>
<circle cx="228.4" cy="857.2" r="1.45"/>
<circle cx="231.5" cy="879.3" r="1.45"/>
<circle cx="246.3" cy="900.4" r="1.45"/>
<circle cx="234.4" cy="921.1" r="1.45"/>
<circle cx="228.4" cy="943.1" r="1.45"/>
<circle cx="227.4" cy="945.2" r="1.45"/>
<circle cx="238.3" cy="965.2" r="1.45"/>
<circle cx="250.2" cy="984.4" r="1.45"/>
<circle cx="251.3" cy="987.3" r="1.45"/>
<circle cx="250.2" cy="990.4" r="1.45"/>
<circle cx="240.4" cy="1009.1" r="1.45"/>
<circle cx="232.3" cy="1031.2" r="1.45"/>
<circle cx="233.3" cy="1052.3" r="1.45"/>
<circle cx="234.4" cy="1074.1" r="1.45"/>
<circle cx="246.3" cy="1096.2" r="1.45"/>
<circle cx="250.2" cy="1100.4" r="1.45"/>
<circle cx="271.3" cy="1114.1" r="1.45"/>
<circle cx="277.3" cy="1117.3" r="1.45"/>
<circle cx="283.3" cy="1139.1" r="1.45"/>
<circle cx="293.1" cy="1151.1" r="1.45"/>
<circle cx="298.3" cy="1161.2" r="1.45"/>
<circle cx="309.2" cy="1182.3" r="1.45"/>
<circle cx="315.2" cy="1189.3" r="1.45"/>
<circle cx="331.3" cy="1204.4" r="1.45"/>
<circle cx="575.3" cy="270.8" r="1.45"/>
</g>
</svg>
</body></html>
